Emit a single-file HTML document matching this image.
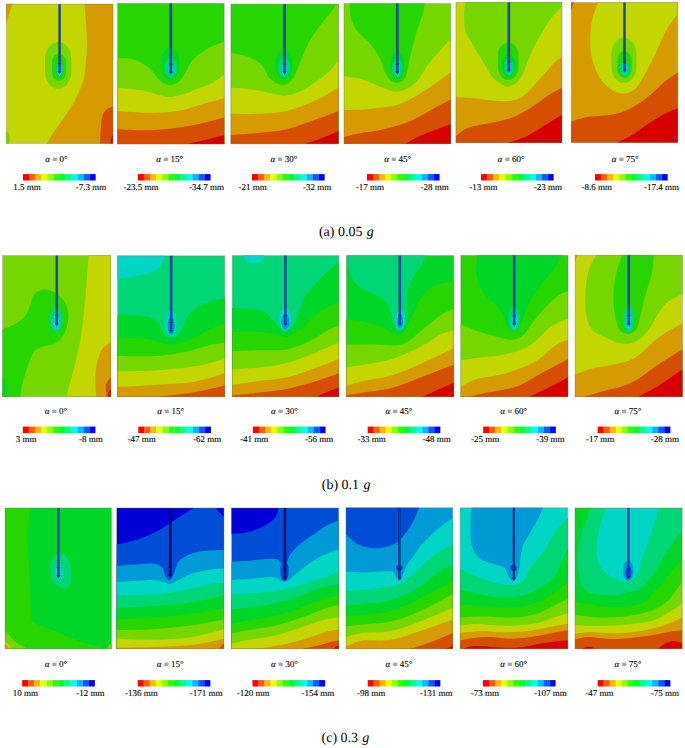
<!DOCTYPE html><html><head><meta charset="utf-8"><style>html,body{margin:0;padding:0;background:#fff;overflow:hidden;width:685px;height:748px;}svg{display:block;}text{font-family:"Liberation Serif",serif;fill:#000;text-rendering:geometricPrecision;}text.s{stroke:#000;stroke-width:0.18px;stroke-opacity:0.6;}</style></head><body>
<svg width="685" height="748" viewBox="0 0 685 748">
<rect width="685" height="748" fill="#fff"/>
<clipPath id="c0"><rect x="6.3" y="4.1" width="106.6" height="139.3"/></clipPath>
<g clip-path="url(#c0)">
<rect x="6.3" y="4.1" width="106.6" height="139.3" fill="#c3d600"/>
<path d="M12.6,4.1C12.1,5.6 10.6,9.7 9.5,13C8.4,16.3 6.8,22.2 6.3,24L2.3,24L2.3,0.1L12.6,0.1Z" fill="#d69b00"/>
<path d="M84.5,4.1C84.8,7.4 85.7,16.7 86.1,24C86.5,31.3 87.2,39.5 86.9,48C86.6,56.5 85.4,68.7 84.5,75C83.6,81.3 82.4,82.8 81.3,86C80.2,89.2 79.2,91.4 78,94.1C76.8,96.8 75.5,99.4 74,102.1C72.5,104.8 70.9,107.4 69.2,110.1C67.5,112.8 65.5,115.5 63.6,118.2C61.7,120.9 59.9,123.5 58,126.2C56.1,128.9 54.2,131.3 52.4,134.2C50.6,137.1 48,141.9 47.1,143.4L47.1,148L117,148L117,0L84.5,0Z" fill="#d69b00"/>
<path d="M112.9,106.6C111.8,107.2 107.7,108.4 106,110C104.3,111.6 103.3,113.8 102.5,116C101.7,118.2 101.6,120.2 101.3,123C101,125.8 100.7,129.6 100.5,133C100.3,136.4 100.1,141.7 100,143.4L100,147.4L116.9,147.4L116.9,106.6Z" fill="#d64e00"/>
<path d="M112.9,134C112.6,134.8 111.4,137.4 111,139C110.6,140.6 110.6,142.7 110.5,143.4L110.5,147.4L116.9,147.4L116.9,134Z" fill="#d60000"/>
<path d="M6.3,131C6.8,131.5 8.7,132.7 9.3,134C9.9,135.3 9.9,137.4 9.8,139C9.8,140.6 9.1,142.7 9,143.4L9,147.4L2.3,147.4L2.3,131Z" fill="#75d600"/>
<rect x="45" y="42" width="26.4" height="46.8" rx="13.2" ry="17.2" fill="#75d600"/>
<rect x="52" y="53.4" width="14" height="27.4" rx="7" ry="9.1" fill="#27d600"/>
<ellipse cx="59.5" cy="69" rx="4" ry="8" fill="#00d675"/>
<ellipse cx="59.6" cy="69.2" rx="2.4" ry="6.6" fill="#00d6c3"/>
<path d="M58.6,3.1 L60.6,3.1 L60.6,72.6 L59.6,74.2 L58.6,72.6 Z" fill="#1f4cbc"/><path d="M58.8,3.1V72.6M60.4,3.1V72.6" stroke="#0c2a80" stroke-width="0.45" fill="none"/><ellipse cx="59.6" cy="63.4" rx="1.9" ry="0.75" fill="#0c2a80"/><ellipse cx="59.6" cy="71.4" rx="1.9" ry="0.75" fill="#0c2a80"/>
</g>
<rect x="6.3" y="4.1" width="106.6" height="139.3" fill="none" stroke="#6b6b50" stroke-opacity="0.55" stroke-width="0.7"/>
<clipPath id="c1"><rect x="117.5" y="3.3" width="106.7" height="140.7"/></clipPath>
<g clip-path="url(#c1)">
<rect x="117.5" y="3.3" width="106.7" height="140.7" fill="#27d600"/>
<path d="M117.5,57.9C120.5,58.2 129.8,57.9 135.3,59.8C140.8,61.7 146.5,65.9 150.7,69.4C154.9,72.9 156.9,78.4 160.3,81C163.7,83.6 167.4,85.5 170.9,85.2C174.4,84.9 177.8,83.2 181.5,79C185.2,74.8 188.5,64.9 193,59.8C197.5,54.7 203.3,51.2 208.5,48.2C213.7,45.2 221.6,42.6 224.2,41.5L228.2,41.5L228.2,148L113.5,148L113.5,57.9Z" fill="#75d600"/>
<path d="M117.5,87.7C121.3,88.1 132.3,88.7 140.1,90.1C147.9,91.5 158.8,95.2 164.2,96.3C169.5,97.4 169,97.2 172.2,96.8C175.4,96.4 179.4,95.3 183.4,94.1C187.4,92.8 191.5,91.2 196.3,89.3C201.1,87.4 207.8,85.2 212.4,82.8C217.1,80.4 222.2,76.1 224.2,74.8L228.2,74.8L228.2,148L113.5,148L113.5,87.7Z" fill="#c3d600"/>
<path d="M117.5,110.9C123.7,111.2 143.5,113 154.5,112.8C165.5,112.6 175.4,111.4 183.4,109.9C191.4,108.5 195.9,106 202.7,104.1C209.5,102.2 220.6,99.3 224.2,98.3L228.2,98.3L228.2,148L113.5,148L113.5,110.9Z" fill="#d69b00"/>
<path d="M117.5,129.2C123.7,129.3 141.9,130.8 154.5,130.1C167.1,129.4 181.4,127.4 193,125.3C204.6,123.2 219,118.9 224.2,117.6L228.2,117.6L228.2,148L113.5,148L113.5,129.2Z" fill="#d64e00"/>
<path d="M187.3,144C190.2,143.3 198.8,141.5 205,140C211.2,138.5 221,135.8 224.2,135L228.2,135L228.2,148L187.3,148Z" fill="#d60000"/>
<ellipse cx="170.4" cy="63.6" rx="9.1" ry="16.4" fill="#00d627"/>
<ellipse cx="170.8" cy="68" rx="6.2" ry="10" fill="#00d675"/>
<ellipse cx="171" cy="69.2" rx="2.7" ry="7.2" fill="#00d6c3"/>
<path d="M169.8,2.3 L172,2.3 L172,73.1 L170.9,74.7 L169.8,73.1 Z" fill="#1f4cbc"/><path d="M170,2.3V73.1M171.8,2.3V73.1" stroke="#0c2a80" stroke-width="0.45" fill="none"/><ellipse cx="170.9" cy="63.9" rx="1.9" ry="0.75" fill="#0c2a80"/><ellipse cx="170.9" cy="71.9" rx="1.9" ry="0.75" fill="#0c2a80"/>
</g>
<rect x="117.5" y="3.3" width="106.7" height="140.7" fill="none" stroke="#6b6b50" stroke-opacity="0.55" stroke-width="0.7"/>
<clipPath id="c2"><rect x="230.9" y="4.1" width="107.6" height="139.7"/></clipPath>
<g clip-path="url(#c2)">
<rect x="230.9" y="4.1" width="107.6" height="139.7" fill="#27d600"/>
<path d="M230.9,53C233.8,53.6 243.2,54.9 248.3,56.9C253.5,58.9 258.1,61.5 261.8,65.2C265.5,68.9 266.9,75.7 270.4,79C273.9,82.3 279.3,84.9 283,84.9C286.7,84.9 289.7,82.9 292.6,79C295.5,75.1 297.4,68.1 300.3,61.7C303.2,55.3 306,47.2 309.9,40.5C313.8,33.8 319.5,26.4 323.4,21.3C327.2,16.2 330.9,12.6 333,9.7C335.1,6.8 335.5,5 336,4.1L336,0L343,0L343,148L226,148L226,53Z" fill="#75d600"/>
<path d="M230.9,87.7C233.3,87.8 240.1,88 245.1,88.5C250.1,89 256.3,90 261.1,90.9C265.9,91.8 270.2,93.3 274,94.1C277.8,94.9 280.4,95.7 283.6,95.7C286.8,95.7 289.7,95.2 293.2,94.1C296.7,93 300.8,91.3 304.5,89.3C308.2,87.3 312.2,84.4 315.7,82C319.2,79.6 322.7,77 325.4,74.8C328.1,72.5 329.8,71 332,68.5C334.2,66 337.4,61.2 338.5,59.8L342.5,59.8L342.5,147.8L226.9,147.8L226.9,87.7Z" fill="#c3d600"/>
<path d="M230.9,113.4C235.4,113.5 248.6,114.2 257.9,113.8C267.2,113.4 277.2,113.2 286.8,110.9C296.4,108.7 307.1,104.2 315.7,100.3C324.3,96.4 334.7,89.8 338.5,87.7L342.5,87.7L342.5,147.8L226.9,147.8L226.9,113.4Z" fill="#d69b00"/>
<path d="M230.9,135C235.4,134.7 248.6,134 257.9,133C267.2,132 277.2,131.4 286.8,129.2C296.4,126.9 307.1,122.5 315.7,119.5C324.3,116.5 334.7,112.3 338.5,110.9L342.5,110.9L342.5,147.8L226.9,147.8L226.9,135Z" fill="#d64e00"/>
<path d="M306,143.8C308.7,142.8 316.6,140.1 322,138C327.4,135.9 335.8,132.2 338.5,131L342.5,131L342.5,147.8L306,147.8Z" fill="#d60000"/>
<ellipse cx="283.9" cy="64.1" rx="8.7" ry="14.9" fill="#00d627"/>
<ellipse cx="284.2" cy="68" rx="6.2" ry="10" fill="#00d675"/>
<ellipse cx="284.6" cy="69.2" rx="2.6" ry="7.2" fill="#00d6c3"/>
<path d="M283.6,3.1 L285.7,3.1 L285.7,73.1 L284.6,74.7 L283.6,73.1 Z" fill="#1f4cbc"/><path d="M283.8,3.1V73.1M285.5,3.1V73.1" stroke="#0c2a80" stroke-width="0.45" fill="none"/><ellipse cx="284.6" cy="63.9" rx="1.9" ry="0.75" fill="#0c2a80"/><ellipse cx="284.6" cy="71.9" rx="1.9" ry="0.75" fill="#0c2a80"/>
</g>
<rect x="230.9" y="4.1" width="107.6" height="139.7" fill="none" stroke="#6b6b50" stroke-opacity="0.55" stroke-width="0.7"/>
<clipPath id="c3"><rect x="344" y="3.6" width="106.8" height="140.1"/></clipPath>
<g clip-path="url(#c3)">
<rect x="344" y="3.6" width="106.8" height="140.1" fill="#75d600"/>
<path d="M349.7,3.6C349.9,5.9 349.4,12.8 350.7,17.4C352,21.9 354,26.4 357.4,30.9C360.8,35.4 367,39.6 370.9,44.4C374.8,49.2 378.2,55.3 380.5,59.8C382.8,64.3 382.8,68 384.4,71.4C386,74.8 387.9,78.1 390.2,80C392.4,81.9 395.3,83.4 397.9,82.9C400.5,82.4 403.7,80.9 405.6,77.1C407.5,73.2 407.8,66.5 409.4,59.8C411,53.1 412.9,44.4 415.2,36.7C417.4,29 421.3,19.1 422.9,13.6C424.5,8.1 424.5,5.3 424.8,3.6L424.8,-0.4L349.7,-0.4Z" fill="#27d600"/>
<path d="M344,76.2C346.9,76.7 355.2,77.2 361.3,79C367.4,80.8 374.4,84.7 380.5,86.8C386.6,88.9 392.1,92.2 397.9,91.6C403.7,90.9 410.1,87.6 415.2,82.9C420.3,78.2 424.2,69.5 428.7,63.7C433.2,57.9 438.5,52.4 442.2,48.2C445.9,44 449.4,40.2 450.8,38.6L454.8,38.6L454.8,147.7L340,147.7L340,76.2Z" fill="#c3d600"/>
<path d="M344,109.9C348.5,109.7 361.6,109.9 370.9,108.9C380.2,107.9 390.8,107.1 399.8,104.1C408.8,101 416.3,95.9 424.8,90.6C433.3,85.3 446.5,75.3 450.8,72.3L454.8,72.3L454.8,147.7L340,147.7L340,109.9Z" fill="#d69b00"/>
<path d="M344,136.9C346.9,136.2 355.2,134.1 361.3,133C367.4,131.9 372.5,132 380.5,130.1C388.5,128.2 400.4,125.2 409.4,121.5C418.4,117.8 427.6,111.7 434.5,108C441.4,104.3 448.1,100.8 450.8,99.3L454.8,99.3L454.8,147.7L340,147.7L340,136.9Z" fill="#d64e00"/>
<path d="M405.6,143.7C408,142.4 415.1,138.3 420,136C424.9,133.7 429.9,131.9 435,130C440.1,128.1 448.2,125.2 450.8,124.3L454.8,124.3L454.8,147.7L405.6,147.7Z" fill="#d60000"/>
<ellipse cx="397.4" cy="65.5" rx="7.2" ry="13.5" fill="#00d627"/>
<ellipse cx="397.5" cy="68.5" rx="5.5" ry="9.5" fill="#00d675"/>
<ellipse cx="397.3" cy="69.2" rx="2.5" ry="7.2" fill="#00d6c3"/>
<path d="M396.2,2.6 L398.4,2.6 L398.4,73.1 L397.3,74.7 L396.2,73.1 Z" fill="#1f4cbc"/><path d="M396.4,2.6V73.1M398.2,2.6V73.1" stroke="#0c2a80" stroke-width="0.45" fill="none"/><ellipse cx="397.3" cy="63.9" rx="1.9" ry="0.75" fill="#0c2a80"/><ellipse cx="397.3" cy="71.9" rx="1.9" ry="0.75" fill="#0c2a80"/>
</g>
<rect x="344" y="3.6" width="106.8" height="140.1" fill="none" stroke="#6b6b50" stroke-opacity="0.55" stroke-width="0.7"/>
<clipPath id="c4"><rect x="455.9" y="2.3" width="106.1" height="140.4"/></clipPath>
<g clip-path="url(#c4)">
<rect x="455.9" y="2.3" width="106.1" height="140.4" fill="#c3d600"/>
<path d="M465.5,2.3C465.2,4.6 463.9,11 464,16C464.1,21 464.2,26.7 466,32.1C467.8,37.5 471.8,42.9 474.9,48.2C478,53.6 481.6,59.5 484.5,64.2C487.4,68.9 489.4,73.3 492,76.5C494.6,79.7 497.3,81.8 500,83.5C502.7,85.2 505.2,86.9 508,86.7C510.8,86.5 514,84.6 516.5,82.5C519,80.4 521.1,77.5 523,73.9C524.9,70.3 526,65.5 527.9,61C529.8,56.5 531.9,51.4 534.3,46.6C536.7,41.8 539.6,36.6 542.3,32.1C545,27.6 547.1,23.6 550.4,19.3C553.7,15 560.1,8.2 562,6L566,6L566,-2L465.5,-2Z" fill="#75d600"/>
<path d="M455.9,97.3C458.8,97.5 465.6,97.6 473.3,98.3C481,99 494.2,101.4 502.2,101.2C510.2,101 515,101.2 521.4,97.3C527.8,93.4 535.2,83.8 540.7,78C546.2,72.2 550.7,66.2 554.2,62.7C557.8,59.2 560.7,57.9 562,56.9L566,56.9L566,146.7L451.9,146.7L451.9,97.3Z" fill="#d69b00"/>
<path d="M455.9,136.5C456.9,135.6 459.6,132.6 462,131C464.4,129.4 466,128.4 470,127.2C474,126 480.7,124.9 486.1,123.8C491.5,122.7 496.8,122.1 502.2,120.6C507.6,119.1 512.9,117.5 518.2,115C523.6,112.5 528.9,108.8 534.3,105.3C539.7,101.8 545.8,97 550.4,94.1C555,91.2 560.1,88.8 562,87.7L566,87.7L566,146.7L451.9,146.7L451.9,136.5Z" fill="#d64e00"/>
<path d="M508,142.7C511.2,141.6 520.8,139 527.2,135.9C533.6,132.8 540.7,127.8 546.5,124.3C552.3,120.8 559.4,116.3 562,114.7L566,114.7L566,146.7L508,146.7Z" fill="#d60000"/>
<rect x="497.9" y="42.4" width="20.6" height="37.6" rx="10.3" ry="13.4" fill="#27d600"/>
<ellipse cx="508.8" cy="65.5" rx="6.8" ry="11.5" fill="#00d627"/>
<ellipse cx="508.8" cy="67.5" rx="4.8" ry="8.5" fill="#00d675"/>
<ellipse cx="508.9" cy="67.7" rx="2.5" ry="7.1" fill="#00d6c3"/>
<path d="M507.8,1.3 L509.9,1.3 L509.9,71.1 L508.9,72.7 L507.8,71.1 Z" fill="#1f4cbc"/><path d="M508,1.3V71.1M509.8,1.3V71.1" stroke="#0c2a80" stroke-width="0.45" fill="none"/><ellipse cx="508.9" cy="61.9" rx="1.9" ry="0.75" fill="#0c2a80"/><ellipse cx="508.9" cy="69.9" rx="1.9" ry="0.75" fill="#0c2a80"/>
</g>
<rect x="455.9" y="2.3" width="106.1" height="140.4" fill="none" stroke="#6b6b50" stroke-opacity="0.55" stroke-width="0.7"/>
<clipPath id="c5"><rect x="571.2" y="2.6" width="106.6" height="140"/></clipPath>
<g clip-path="url(#c5)">
<rect x="571.2" y="2.6" width="106.6" height="140" fill="#d69b00"/>
<path d="M597.9,2.6C596.9,5.5 593.4,14.2 592.1,20.3C590.8,26.4 590.2,33.1 590.2,39.5C590.2,45.9 590.5,52.4 592.1,58.8C593.7,65.2 596.6,72.9 599.8,78C603,83.1 607.5,87 611.4,89.6C615.3,92.2 619.1,93.5 623,93.5C626.9,93.5 630.9,92.7 634.5,89.6C638.1,86.5 642.3,78.4 644.5,75C646.7,71.6 645.8,72.7 647.7,69C649.6,65.3 652.8,59.1 655.7,53C658.7,46.9 662.7,37.4 665.4,32.1C668.1,26.9 669.9,24.5 672,21.5C674.1,18.5 676.8,15.2 677.8,14L682,14L682,-2L597.9,-2Z" fill="#c3d600"/>
<path d="M573.8,2.6C573.5,3.2 572.7,5.3 572.3,6.5C571.9,7.7 571.4,9.2 571.2,9.7L567.2,9.7L567.2,-1.4L573.8,-1.4Z" fill="#d64e00"/>
<path d="M571.2,121.4C573.5,120.7 580.1,118.3 585.1,117.4C590.1,116.5 595.8,116.5 601.1,115.8C606.5,115.1 611.9,114.9 617.2,113.4C622.6,111.9 627.9,109.9 633.2,106.9C638.6,104 643.9,100 649.3,95.7C654.7,91.4 660.6,85.1 665.4,81.2C670.1,77.3 675.7,73.9 677.8,72.4L681.8,72.4L681.8,146.6L567.2,146.6L567.2,121.4Z" fill="#d64e00"/>
<path d="M617.2,142.6C619.9,141.2 627.9,137.5 633.2,134.2C638.6,130.9 643.9,126.5 649.3,123C654.7,119.5 660.6,115.8 665.4,113.4C670.1,111 675.7,109.3 677.8,108.5L681.8,108.5L681.8,146.6L617.2,146.6Z" fill="#d60000"/>
<rect x="611.4" y="37.6" width="25" height="45.3" rx="12.5" ry="16.2" fill="#75d600"/>
<rect x="617.2" y="51.1" width="14.4" height="26.9" rx="7.2" ry="9.4" fill="#27d600"/>
<ellipse cx="624.5" cy="68.5" rx="5" ry="8.5" fill="#00d675"/>
<ellipse cx="624.5" cy="67.7" rx="2.5" ry="7.1" fill="#00d6c3"/>
<path d="M623.5,1.6 L625.5,1.6 L625.5,71.1 L624.5,72.7 L623.5,71.1 Z" fill="#1f4cbc"/><path d="M623.7,1.6V71.1M625.3,1.6V71.1" stroke="#0c2a80" stroke-width="0.45" fill="none"/><ellipse cx="624.5" cy="61.9" rx="1.9" ry="0.75" fill="#0c2a80"/><ellipse cx="624.5" cy="69.9" rx="1.9" ry="0.75" fill="#0c2a80"/>
</g>
<rect x="571.2" y="2.6" width="106.6" height="140" fill="none" stroke="#6b6b50" stroke-opacity="0.55" stroke-width="0.7"/>
<clipPath id="c6"><rect x="2.6" y="255.6" width="108.2" height="141.1"/></clipPath>
<g clip-path="url(#c6)">
<rect x="2.6" y="255.6" width="108.2" height="141.1" fill="#75d600"/>
<path d="M2.6,329C4.2,328.4 8.9,327.1 12.5,325.2C16.1,323.3 21.2,320.7 24.1,317.5C27,314.3 28.3,309.9 29.9,306C31.5,302.1 31.5,297.1 33.7,294.4C35.9,291.7 39.8,289.9 43.3,289.6C46.8,289.3 51.4,290.4 54.9,292.5C58.4,294.6 62.2,298.2 64.5,302.1C66.8,306 68.2,310.8 68.4,315.6C68.6,320.4 67.4,326.5 65.5,331C63.6,335.5 60.8,339.8 56.8,342.5C52.8,345.2 45.2,345.7 41.4,347.3C37.5,348.9 36,349.1 33.7,352.2C31.5,355.2 29.8,360.2 27.9,365.6C26,371.1 23.5,379.7 22.2,384.9C20.9,390.1 20.5,394.7 20.2,396.7L20.2,401L-2,401L-2,329Z" fill="#27d600"/>
<path d="M2.6,377.2C3.2,378 5.7,379.9 6.5,382C7.3,384.1 7.7,387.6 7.7,390C7.7,392.4 6.7,395.6 6.5,396.7L6.5,400.7L-1.4,400.7L-1.4,377.2Z" fill="#00d627"/>
<path d="M88.6,255.6C88.1,261.8 86.8,279.9 85.7,292.5C84.6,305.1 83.4,319.8 81.8,331C80.2,342.2 78.3,350.3 76.1,359.9C73.9,369.5 70,382.6 68.4,388.7C66.8,394.8 66.7,395.4 66.4,396.7L66.4,401L115,401L115,251L88.6,251Z" fill="#c3d600"/>
<path d="M110.8,342.5C109.5,343.5 105.3,345.1 103,348.3C100.7,351.5 98.5,356.7 97.2,361.8C95.9,366.9 95.5,373.3 95.3,379.1C95.1,384.9 96.1,393.8 96.3,396.7L96.3,400.7L114.8,400.7L114.8,342.5Z" fill="#d69b00"/>
<path d="M110.8,377.2C110,378.5 106.6,381.6 105.9,384.9C105.2,388.1 106.7,394.7 106.8,396.7L106.8,400.7L114.8,400.7L114.8,377.2Z" fill="#d64e00"/>
<path d="M110.8,389C110.4,389.7 109,391.7 108.6,393C108.1,394.3 108.2,396.1 108.1,396.7L108.1,400.7L114.8,400.7L114.8,389Z" fill="#d60000"/>
<ellipse cx="55.9" cy="319.9" rx="6.8" ry="12.1" fill="#00d675"/>
<ellipse cx="56.5" cy="322" rx="4" ry="8" fill="#00d6c3"/>
<path d="M55.8,254.6 L57.8,254.6 L57.8,325 L56.8,326.6 L55.8,325 Z" fill="#1f4cbc"/><path d="M56,254.6V325M57.6,254.6V325" stroke="#0c2a80" stroke-width="0.45" fill="none"/><ellipse cx="56.8" cy="315.8" rx="1.9" ry="0.75" fill="#0c2a80"/><ellipse cx="56.8" cy="323.8" rx="1.9" ry="0.75" fill="#0c2a80"/>
</g>
<rect x="2.6" y="255.6" width="108.2" height="141.1" fill="none" stroke="#6b6b50" stroke-opacity="0.55" stroke-width="0.7"/>
<clipPath id="c7"><rect x="117.5" y="255.8" width="107.3" height="140.9"/></clipPath>
<g clip-path="url(#c7)">
<rect x="117.5" y="255.8" width="107.3" height="140.9" fill="#00d675"/>
<path d="M164.1,255.8C163.8,257.1 163.8,261 162.2,263.6C160.6,266.2 159,269.2 154.5,271.3C150,273.4 141.4,274.8 135.2,276.1C129,277.4 120.5,278.5 117.5,279L113.5,279L113.5,251.8L164.1,251.8Z" fill="#00d6c3"/>
<path d="M117.5,314.6C120.5,314.8 131.4,315.4 135.2,315.6C138.9,315.8 137.7,315.8 140,316C142.3,316.2 145.9,315.9 148.8,316.9C151.7,317.9 155.5,320.3 157.5,322.2C159.5,324.1 159.7,326.1 161,328.3C162.3,330.5 163.8,333.7 165.4,335.3C167,336.9 168.8,337.8 170.7,337.9C172.6,338 174.9,337.5 176.8,336.2C178.7,334.9 180.6,332.5 182,330C183.4,327.5 184,324.2 185.5,321.3C187,318.4 188.4,315.1 190.8,312.5C193.2,309.9 197.1,307.2 200,305.5C202.9,303.8 205.3,303.4 208,302.5C210.7,301.6 213.3,300.9 216.1,300.2C218.9,299.5 223.4,298.6 224.8,298.3L228.8,298.3L228.8,400.7L113.5,400.7L113.5,314.6Z" fill="#00d627"/>
<path d="M117.5,337.7C122.1,337.9 137.1,337.7 144.9,338.7C152.7,339.7 159.3,342.5 164.1,343.5C168.9,344.5 168.9,345.3 173.7,344.5C178.5,343.7 186.6,341.4 193,338.7C199.4,336 206.9,330.7 212.2,328.1C217.5,325.5 222.7,324.1 224.8,323.3L228.8,323.3L228.8,400.7L113.5,400.7L113.5,337.7Z" fill="#27d600"/>
<path d="M117.5,356C123.7,356 143.5,356.6 154.5,356C165.5,355.4 174.4,354 183.4,352.2C192.4,350.4 201.5,347 208.4,345.4C215.3,343.8 222.1,343 224.8,342.5L228.8,342.5L228.8,400.7L113.5,400.7L113.5,356Z" fill="#75d600"/>
<path d="M117.5,371.4C123.7,371.2 141.9,371.2 154.5,370.4C167.1,369.6 181.3,368.5 193,366.6C204.7,364.7 219.5,360.2 224.8,358.9L228.8,358.9L228.8,400.7L113.5,400.7L113.5,371.4Z" fill="#c3d600"/>
<path d="M117.5,386.8C123.7,386.5 141.9,385.7 154.5,384.9C167.1,384.1 181.3,383.9 193,382C204.7,380.1 219.5,374.8 224.8,373.3L228.8,373.3L228.8,400.7L113.5,400.7L113.5,386.8Z" fill="#d69b00"/>
<path d="M160,396.7C163.6,396.2 173.8,395.1 181.4,394C189.1,392.9 198.7,391.3 205.9,389.9C213.1,388.5 221.7,386.2 224.8,385.5L228.8,385.5L228.8,400.7L160,400.7Z" fill="#d64e00"/>
<ellipse cx="170.9" cy="323.1" rx="5.6" ry="13" fill="#00d6c3"/>
<ellipse cx="171.1" cy="325.9" rx="3.6" ry="9" fill="#009bd6"/>
<path d="M170.1,254.8 L172.2,254.8 L172.2,331.6 L171.2,333.2 L170.1,331.6 Z" fill="#1f4cbc"/><path d="M170.3,254.8V331.6M172.1,254.8V331.6" stroke="#0c2a80" stroke-width="0.45" fill="none"/><ellipse cx="171.2" cy="322.4" rx="1.9" ry="0.75" fill="#0c2a80"/><ellipse cx="171.2" cy="330.4" rx="1.9" ry="0.75" fill="#0c2a80"/>
</g>
<rect x="117.5" y="255.8" width="107.3" height="140.9" fill="none" stroke="#6b6b50" stroke-opacity="0.55" stroke-width="0.7"/>
<clipPath id="c8"><rect x="232.2" y="255.5" width="106.7" height="141.2"/></clipPath>
<g clip-path="url(#c8)">
<rect x="232.2" y="255.5" width="106.7" height="141.2" fill="#00d675"/>
<ellipse cx="254.1" cy="255.6" rx="10.6" ry="8.1" fill="#00d6c3"/>
<path d="M232.2,307.9C235,308 243.8,308.2 249.2,308.8C254.6,309.4 260.4,309.6 264.6,311.7C268.8,313.8 270.9,318.2 274.3,321.4C277.7,324.6 281.7,330.4 284.9,331C288.1,331.6 291.1,328.4 293.5,325.2C295.9,322 297.4,316.5 299.3,311.7C301.2,306.9 302.2,301.1 305.1,296.3C308,291.5 312.1,287.7 316.6,282.9C321.1,278.1 328.3,270.9 332,267.5C335.7,264.1 337.8,263.5 338.9,262.7L342.9,262.7L342.9,400.7L228.2,400.7L228.2,307.9Z" fill="#00d627"/>
<path d="M232.2,332C236.6,332 251.2,331.5 258.9,332C266.5,332.5 273.3,334 278.1,334.8C282.9,335.6 283.5,338.1 287.7,336.8C291.9,335.5 298.3,331 303.1,327.1C307.9,323.2 312.1,317.2 316.6,313.7C321.1,310.2 326.4,307.9 330.1,306C333.8,304.1 337.4,302.8 338.9,302.1L342.9,302.1L342.9,400.7L228.2,400.7L228.2,332Z" fill="#27d600"/>
<path d="M232.2,351.2C236.6,351 249.6,350.5 258.9,350.2C268.1,349.9 279,350.9 287.7,349.3C296.4,347.7 304.4,343.7 310.8,340.6C317.2,337.6 321.5,333.6 326.2,331C330.9,328.4 336.8,326.2 338.9,325.2L342.9,325.2L342.9,400.7L228.2,400.7L228.2,351.2Z" fill="#75d600"/>
<path d="M232.2,369.5C236.6,369.2 249.6,368.6 258.9,367.5C268.1,366.4 278.1,365.2 287.7,362.7C297.3,360.1 308.1,355.6 316.6,352.2C325.1,348.8 335.2,344.1 338.9,342.5L342.9,342.5L342.9,400.7L228.2,400.7L228.2,369.5Z" fill="#c3d600"/>
<path d="M232.2,384.9C236.6,384.2 249.6,382.3 258.9,381C268.1,379.7 278.1,379.4 287.7,377.2C297.3,374.9 308.1,370.6 316.6,367.5C325.1,364.4 335.2,360.3 338.9,358.9L342.9,358.9L342.9,400.7L228.2,400.7L228.2,384.9Z" fill="#d69b00"/>
<path d="M232.2,395.5C236.6,395 249.6,393.7 258.9,392.6C268.1,391.5 278.1,390.6 287.7,388.7C297.3,386.8 308.1,383.6 316.6,381C325.1,378.4 335.2,374.6 338.9,373.3L342.9,373.3L342.9,400.7L228.2,400.7L228.2,395.5Z" fill="#d64e00"/>
<path d="M316.7,396.7C318.6,395.8 324.4,393.1 328.1,391.5C331.8,389.9 337.1,388.1 338.9,387.4L342.9,387.4L342.9,400.7L316.7,400.7Z" fill="#d60000"/>
<ellipse cx="285.4" cy="319.4" rx="6.2" ry="11.6" fill="#00d6c3"/>
<ellipse cx="285.5" cy="321.8" rx="4" ry="7.8" fill="#009bd6"/>
<path d="M284.3,254.5 L286.4,254.5 L286.4,325 L285.4,326.6 L284.3,325 Z" fill="#1f4cbc"/><path d="M284.5,254.5V325M286.2,254.5V325" stroke="#0c2a80" stroke-width="0.45" fill="none"/><ellipse cx="285.4" cy="315.8" rx="1.9" ry="0.75" fill="#0c2a80"/><ellipse cx="285.4" cy="323.8" rx="1.9" ry="0.75" fill="#0c2a80"/>
</g>
<rect x="232.2" y="255.5" width="106.7" height="141.2" fill="none" stroke="#6b6b50" stroke-opacity="0.55" stroke-width="0.7"/>
<clipPath id="c9"><rect x="346.3" y="255.4" width="107.5" height="141.3"/></clipPath>
<g clip-path="url(#c9)">
<rect x="346.3" y="255.4" width="107.5" height="141.3" fill="#00d627"/>
<path d="M347.8,255.4C348.1,258.4 347.9,268 349.8,273.2C351.7,278.4 354.9,283 359.4,286.7C363.9,290.4 372.2,292.8 376.7,295.4C381.2,298 384.1,299.4 386.3,302.1C388.6,304.8 388.9,307.9 390.2,311.7C391.5,315.5 392.4,322.1 394,325.2C395.6,328.2 397.7,332.2 399.8,330C401.9,327.8 405.2,317.9 406.5,311.7C407.8,305.4 406.4,298.3 407.5,292.5C408.6,286.7 411.1,281.6 413.3,277.1C415.6,272.6 418.9,269.1 421,265.5C423.1,261.9 425,257.1 425.8,255.4L425.8,251.4L347.8,251.4Z" fill="#00d675"/>
<path d="M346.3,319.4C349.1,319.7 357.2,320.1 363.2,321.4C369.2,322.7 377.7,325.2 382.5,327.1C387.3,329 388.9,331.8 392.1,332.9C395.3,334 398.5,336.5 401.7,333.9C404.9,331.3 408.2,323.4 411.4,317.5C414.6,311.6 417.5,303.4 421,298.3C424.5,293.2 427,289.6 432.5,286.7C438,283.8 450.2,281.9 453.8,280.9L457.8,280.9L457.8,400.7L342.3,400.7L342.3,319.4Z" fill="#27d600"/>
<path d="M346.3,344.5C350.7,344.5 363.7,344.5 372.9,344.5C382.1,344.5 393.7,346.8 401.7,344.5C409.7,342.2 414.6,335.8 421,331C427.4,326.2 434.7,319.3 440.2,315.6C445.7,311.9 451.5,309.9 453.8,308.8L457.8,308.8L457.8,400.7L342.3,400.7L342.3,344.5Z" fill="#75d600"/>
<path d="M346.3,367.5C349.1,367 355.6,366.1 363.2,364.7C370.8,363.3 382.5,361.9 392.1,358.9C401.7,355.8 413,350.4 421,346.4C429,342.4 434.7,337.5 440.2,334.8C445.7,332.1 451.5,330.8 453.8,330L457.8,330L457.8,400.7L342.3,400.7L342.3,367.5Z" fill="#c3d600"/>
<path d="M346.3,385.8C349.1,385 355.6,382.8 363.2,381C370.8,379.2 382.5,378.1 392.1,375.2C401.7,372.3 410.7,368.2 421,363.7C431.3,359.2 448.3,350.9 453.8,348.3L457.8,348.3L457.8,400.7L342.3,400.7L342.3,385.8Z" fill="#d69b00"/>
<path d="M346.3,395.5C349.1,395 355.6,393.9 363.2,392.6C370.8,391.3 382.5,390.4 392.1,387.8C401.7,385.2 410.7,381.1 421,377.2C431.3,373.3 448.3,366.8 453.8,364.7L457.8,364.7L457.8,400.7L342.3,400.7L342.3,395.5Z" fill="#d64e00"/>
<path d="M422.5,396.7C424.7,395.7 431.8,392.4 435.6,390.7C439.4,389 442.4,388 445.4,386.6C448.4,385.2 452.4,383.2 453.8,382.5L457.8,382.5L457.8,400.7L422.5,400.7Z" fill="#d60000"/>
<ellipse cx="400.3" cy="319.9" rx="5.3" ry="10.1" fill="#00d6c3"/>
<ellipse cx="400" cy="321.8" rx="3" ry="6.8" fill="#009bd6"/>
<path d="M398.8,254.4 L400.9,254.4 L400.9,325 L399.8,326.6 L398.8,325 Z" fill="#1f4cbc"/><path d="M398.9,254.4V325M400.7,254.4V325" stroke="#0c2a80" stroke-width="0.45" fill="none"/><ellipse cx="399.8" cy="315.8" rx="1.9" ry="0.75" fill="#0c2a80"/><ellipse cx="399.8" cy="323.8" rx="1.9" ry="0.75" fill="#0c2a80"/>
</g>
<rect x="346.3" y="255.4" width="107.5" height="141.3" fill="none" stroke="#6b6b50" stroke-opacity="0.55" stroke-width="0.7"/>
<clipPath id="c10"><rect x="460.8" y="255.3" width="107.2" height="141.4"/></clipPath>
<g clip-path="url(#c10)">
<rect x="460.8" y="255.3" width="107.2" height="141.4" fill="#27d600"/>
<path d="M477.2,255.3C477.1,258.3 475.3,267 476.3,273.2C477.3,279.4 479.6,287 483,292.5C486.4,298 493,301.8 496.5,306C500,310.2 502.4,314 504.2,317.5C506,321 505.5,325 507.1,327.1C508.7,329.2 511.4,330.9 513.8,330C516.2,329.1 519.7,324.1 521.5,321.4C523.3,318.7 523.1,317.4 524.5,314C525.9,310.6 527.2,305.9 530,301C532.8,296.1 537.3,290.1 541.4,284.7C545.5,279.3 551,273.3 554.5,268.4C558,263.5 561.2,257.5 562.6,255.3L562.6,251.3L477.2,251.3Z" fill="#00d627"/>
<path d="M460.8,324.2C463.5,325.3 471.2,328.9 477.2,331C483.1,333.1 490.7,335.4 496.5,336.8C502.3,338.2 507.4,339.9 511.9,339.6C516.4,339.3 519.5,338.2 523.4,334.8C527.2,331.4 530.8,324.5 535,319.4C539.2,314.3 544.3,308.2 548.5,304C552.7,299.8 556.8,296.5 560,294.4C563.2,292.3 566.7,292 568,291.5L572,291.5L572,400.7L456.8,400.7L456.8,324.2Z" fill="#75d600"/>
<path d="M460.8,359.9C463.5,359.6 469.6,358.9 477.2,357.9C484.8,356.9 497.1,356.3 506.1,354.1C515.1,351.9 523.7,349 531.1,344.5C538.5,340 544.2,331.4 550.4,327.1C556.5,322.8 565.1,319.9 568,318.5L572,318.5L572,400.7L456.8,400.7L456.8,359.9Z" fill="#c3d600"/>
<path d="M460.8,386.8C463.5,385.5 469.6,381.4 477.2,379.1C484.8,376.9 496.5,376.2 506.1,373.3C515.7,370.4 527,366.3 535,361.8C543,357.3 548.7,350.1 554.2,346.4C559.7,342.7 565.7,340.7 568,339.6L572,339.6L572,400.7L456.8,400.7L456.8,386.8Z" fill="#d69b00"/>
<path d="M469.5,396.7C472.4,396 479.2,394.2 486.9,392.6C494.6,391 506.1,390.3 515.7,386.8C525.3,383.3 535.9,376 544.6,371.4C553.3,366.8 564.1,361 568,358.9L572,358.9L572,400.7L469.5,400.7Z" fill="#d64e00"/>
<path d="M529.2,396.7C532.7,395.1 543.9,390.1 550.4,386.8C556.9,383.6 565.1,378.8 568,377.2L572,377.2L572,400.7L529.2,400.7Z" fill="#d60000"/>
<ellipse cx="514" cy="318.5" rx="6" ry="12.5" fill="#00d675"/>
<ellipse cx="514.2" cy="321.2" rx="3.8" ry="8.2" fill="#00d6c3"/>
<path d="M513.2,254.3 L515.2,254.3 L515.2,325 L514.2,326.6 L513.2,325 Z" fill="#1f4cbc"/><path d="M513.4,254.3V325M515,254.3V325" stroke="#0c2a80" stroke-width="0.45" fill="none"/><ellipse cx="514.2" cy="315.8" rx="1.9" ry="0.75" fill="#0c2a80"/><ellipse cx="514.2" cy="323.8" rx="1.9" ry="0.75" fill="#0c2a80"/>
</g>
<rect x="460.8" y="255.3" width="107.2" height="141.4" fill="none" stroke="#6b6b50" stroke-opacity="0.55" stroke-width="0.7"/>
<clipPath id="c11"><rect x="575.1" y="255.2" width="107.3" height="141.5"/></clipPath>
<g clip-path="url(#c11)">
<rect x="575.1" y="255.2" width="107.3" height="141.5" fill="#c3d600"/>
<path d="M577.8,255.2C577.5,255.8 576.7,257.9 576.2,259C575.8,260.1 575.3,261.2 575.1,261.7L571.1,261.7L571.1,251.2L577.8,251.2Z" fill="#d69b00"/>
<path d="M596.1,255.2C595,257.4 591.1,263.5 589.4,268.4C587.7,273.3 586.8,279.3 586.1,284.7C585.4,290.1 585.2,295.6 585.3,301C585.4,306.4 585.9,312.9 586.9,317.4C587.9,321.9 589.1,325.2 591,328C592.9,330.8 595.5,332.4 598,334C600.5,335.6 602.4,336.1 605.7,337.5C609,338.9 613.9,341.5 617.9,342.5C621.9,343.5 625.7,344.5 629.6,343.7C633.5,342.9 637.7,340.8 641.3,337.9C644.9,335 648.1,330.3 651,326.1C653.9,321.9 656.3,316.4 658.9,312.5C661.5,308.6 663.8,305.3 666.7,302.7C669.6,300.1 673.8,298.3 676.4,296.9C679,295.4 681.4,294.5 682.4,294L687,294L687,251L596.1,251Z" fill="#75d600"/>
<path d="M622.1,255.2C621.1,258.2 617.8,267 616.3,273.2C614.8,279.4 613.7,286.1 613.4,292.5C613.1,298.9 613.4,305.6 614.4,311.7C615.4,317.8 617,325.3 619.2,329C621.4,332.7 624.9,333.9 627.8,333.9C630.7,333.9 634.2,332.7 636.5,329C638.8,325.3 639.7,317.8 641.3,311.7C642.9,305.6 644.3,298.9 646.1,292.5C647.9,286.1 650.6,279.4 651.9,273.2C653.2,267 653.5,258.2 653.8,255.2L653.8,251.2L622.1,251.2Z" fill="#27d600"/>
<path d="M575.1,374.3C578,373.3 586.1,370.1 592.2,368.5C598.3,366.9 604.4,366.5 611.5,364.7C618.6,362.9 626.6,362.5 634.6,357.9C642.6,353.2 651.6,342.6 659.6,336.8C667.6,331 678.6,325.6 682.4,323.3L686.4,323.3L686.4,400.7L571.1,400.7L571.1,374.3Z" fill="#d69b00"/>
<path d="M584.5,396.7C587.4,395.9 594.2,393.9 601.9,391.6C609.6,389.3 621.1,387.6 630.7,383C640.3,378.4 651,369.3 659.6,363.7C668.2,358.1 678.6,351.7 682.4,349.3L686.4,349.3L686.4,400.7L584.5,400.7Z" fill="#d64e00"/>
<path d="M638.4,396.7C641.9,394.7 652.3,389.4 659.6,384.9C666.9,380.4 678.6,372.1 682.4,369.5L686.4,369.5L686.4,400.7L638.4,400.7Z" fill="#d60000"/>
<ellipse cx="628.8" cy="319" rx="5.8" ry="13" fill="#00d675"/>
<ellipse cx="628.8" cy="321.5" rx="3.5" ry="8.5" fill="#00d6c3"/>
<path d="M627.8,254.2 L629.8,254.2 L629.8,325 L628.8,326.6 L627.8,325 Z" fill="#1f4cbc"/><path d="M628,254.2V325M629.6,254.2V325" stroke="#0c2a80" stroke-width="0.45" fill="none"/><ellipse cx="628.8" cy="315.8" rx="1.9" ry="0.75" fill="#0c2a80"/><ellipse cx="628.8" cy="323.8" rx="1.9" ry="0.75" fill="#0c2a80"/>
</g>
<rect x="575.1" y="255.2" width="107.3" height="141.5" fill="none" stroke="#6b6b50" stroke-opacity="0.55" stroke-width="0.7"/>
<clipPath id="c12"><rect x="5.1" y="508" width="106.5" height="140.8"/></clipPath>
<g clip-path="url(#c12)">
<rect x="5.1" y="508" width="106.5" height="140.8" fill="#00d627"/>
<path d="M29.9,508C29.6,511.7 28.4,524.7 28,530C27.6,535.3 27.3,532.9 27.5,540C27.7,547.1 28.6,561.8 29.2,572.7C29.8,583.6 30.4,597.9 30.8,605.4C31.2,612.9 30.9,614.6 31.4,617.5C31.9,620.4 31.4,620.7 34,622.5C36.6,624.3 42.2,626.2 47.1,628.3C52,630.3 58,632.6 63.5,634.8C69,637 74.1,639.5 79.8,641.4C85.5,643.3 93.2,645.1 97.8,646.3C102.4,647.5 106,648.4 107.6,648.8L107.6,653L1,653L1,504L29.9,504Z" fill="#27d600"/>
<path d="M5.1,631.1C6,632.1 8.8,635 10.7,636.9C12.6,638.8 13.6,640.6 16.5,642.6C19.4,644.6 26.1,647.8 28,648.8L28,652.8L1.1,652.8L1.1,631.1Z" fill="#75d600"/>
<path d="M5.1,641C5.8,641.7 8,643.7 9,645C10,646.3 10.7,648.2 11,648.8L11,652.8L1.1,652.8L1.1,641Z" fill="#c3d600"/>
<path d="M5.1,644.5C5.5,644.8 6.9,645.6 7.5,646.3C8.1,647 8.6,648.4 8.8,648.8L8.8,652.8L1.1,652.8L1.1,644.5Z" fill="#d69b00"/>
<path d="M107.9,648.8C108.1,648.2 108.4,645.9 109,645C109.6,644.1 111.2,643.8 111.6,643.6L115.6,643.6L115.6,652.8L107.9,652.8Z" fill="#75d600"/>
<path d="M58.4,553.2C60.8,552.5 64.2,554.4 66,556C67.8,557.6 68.6,560.3 69.5,563C70.4,565.7 71.1,568.8 71.3,572C71.5,575.2 71.5,579.2 70.5,582C69.5,584.8 67.1,588.1 65,588.8C62.9,589.5 60.2,587.5 58,586C55.8,584.5 53.3,582.7 52,580C50.7,577.3 50.3,573.3 50.2,570C50.1,566.7 50.1,562.8 51.5,560C52.9,557.2 56,553.9 58.4,553.2Z" fill="#00d675"/>
<ellipse cx="58.9" cy="572.4" rx="3.9" ry="7.7" fill="#00d6c3"/>
<path d="M57.4,507 L59.4,507 L59.4,577 L58.4,578.6 L57.4,577 Z" fill="#1f4cbc"/><path d="M57.6,507V577M59.2,507V577" stroke="#0c2a80" stroke-width="0.45" fill="none"/><ellipse cx="58.4" cy="567.8" rx="1.9" ry="0.75" fill="#0c2a80"/><ellipse cx="58.4" cy="575.8" rx="1.9" ry="0.75" fill="#0c2a80"/>
</g>
<rect x="5.1" y="508" width="106.5" height="140.8" fill="none" stroke="#6b6b50" stroke-opacity="0.55" stroke-width="0.7"/>
<clipPath id="c13"><rect x="116.6" y="508" width="107.3" height="140.8"/></clipPath>
<g clip-path="url(#c13)">
<rect x="116.6" y="508" width="107.3" height="140.8" fill="#0000d6"/>
<path d="M116.6,544.5C119.5,543.9 128,542.5 134.2,540.6C140.3,538.7 148,535.6 153.5,533C159,530.4 162.8,527.8 167,525.2C171.2,522.6 174.3,520.2 178.5,517.5C182.7,514.8 189.5,510.5 192,508.9C194.5,507.3 193.2,508.1 193.5,508L193.5,504L228,504L228,653L112,653L112,544.5Z" fill="#004ed6"/>
<path d="M216,508C216.5,508.7 217.7,510.6 219,512C220.3,513.4 223.1,515.8 223.9,516.6L227.9,516.6L227.9,504L216,504Z" fill="#0000d6"/>
<path d="M116.6,565.7C119.5,565.5 128,565 134.2,564.7C140.3,564.4 148.8,563.2 153.5,563.7C158.2,564.2 160.3,565.7 162.2,567.6C164.1,569.5 163.7,573.2 165,575.3C166.3,577.4 168.2,580.8 169.8,580.1C171.4,579.5 173.2,574.5 174.7,571.4C176.1,568.3 176.3,564.5 178.5,561.8C180.7,559.1 184.2,556.9 188.1,555.1C191.9,553.3 195.6,552 201.6,551.2C207.6,550.4 220.2,550.4 223.9,550.3L227.9,550.3L227.9,652.8L112.6,652.8L112.6,565.7Z" fill="#009bd6"/>
<path d="M116.6,582C119.5,581.9 128,581.4 134.2,581.1C140.3,580.8 148.7,580 153.5,580.1C158.3,580.2 160.4,581.4 163.1,582C165.8,582.6 167.2,584.3 169.8,584C172.4,583.7 174.8,581.9 178.5,580.1C182.2,578.3 186.6,575.2 192,573.4C197.4,571.6 205.9,570.3 211.2,569.5C216.5,568.7 221.8,568.7 223.9,568.5L227.9,568.5L227.9,652.8L112.6,652.8L112.6,582Z" fill="#00d6c3"/>
<path d="M116.6,595.5C122.8,595.3 142.5,595.3 153.5,594.5C164.5,593.7 172.8,592.5 182.4,590.7C192,589 204.3,585.3 211.2,584C218.1,582.7 221.8,583.2 223.9,583L227.9,583L227.9,652.8L112.6,652.8L112.6,595.5Z" fill="#00d675"/>
<path d="M116.6,608C122.8,607.7 140.9,607.1 153.5,606.1C166.1,605.1 180.3,604 192,602.2C203.7,600.4 218.6,596.6 223.9,595.5L227.9,595.5L227.9,652.8L112.6,652.8L112.6,608Z" fill="#00d627"/>
<path d="M116.6,619.5C122.8,619.2 140.9,618.6 153.5,617.6C166.1,616.6 180.3,615.4 192,613.8C203.7,612.2 218.6,609 223.9,608L227.9,608L227.9,652.8L112.6,652.8L112.6,619.5Z" fill="#27d600"/>
<path d="M116.6,630.1C122.8,630 140.9,630 153.5,629.2C166.1,628.4 180.3,626.9 192,625.3C203.7,623.7 218.6,620.5 223.9,619.5L227.9,619.5L227.9,652.8L112.6,652.8L112.6,630.1Z" fill="#75d600"/>
<path d="M116.6,638.8C122.8,639 140.9,640.1 153.5,639.8C166.1,639.5 180.3,638.7 192,636.9C203.7,635.1 218.6,630.5 223.9,629.2L227.9,629.2L227.9,652.8L112.6,652.8L112.6,638.8Z" fill="#c3d600"/>
<path d="M116.6,647.5C122.8,647.4 140.9,647.4 153.5,647C166.1,646.6 180.3,646.4 192,645C203.7,643.6 218.6,639.8 223.9,638.8L227.9,638.8L227.9,652.8L112.6,652.8L112.6,647.5Z" fill="#d69b00"/>
<path d="M218.9,648.8C219.2,648.3 220.2,646.9 221,646C221.8,645.1 223.4,644 223.9,643.6L227.9,643.6L227.9,652.8L218.9,652.8Z" fill="#d64e00"/>
<path d="M169.2,507 L171.4,507 L171.4,576.3 L170.3,577.9 L169.2,576.3 Z" fill="#0a0a7a"/><path d="M169.4,507V576.3M171.2,507V576.3" stroke="#05053a" stroke-width="0.45" fill="none"/><ellipse cx="170.3" cy="567.1" rx="1.9" ry="0.75" fill="#05053a"/><ellipse cx="170.3" cy="575.1" rx="1.9" ry="0.75" fill="#05053a"/>
</g>
<rect x="116.6" y="508" width="107.3" height="140.8" fill="none" stroke="#6b6b50" stroke-opacity="0.55" stroke-width="0.7"/>
<clipPath id="c14"><rect x="231.5" y="508" width="107.3" height="140.8"/></clipPath>
<g clip-path="url(#c14)">
<rect x="231.5" y="508" width="107.3" height="140.8" fill="#004ed6"/>
<path d="M279,508C278.4,509.6 277.4,514.6 275.2,517.5C273,520.4 270.1,522.8 265.6,525.2C261.1,527.6 253.9,530.5 248.2,532C242.5,533.5 234.3,533.6 231.5,533.9L227.5,533.9L227.5,504L279,504Z" fill="#0000d6"/>
<path d="M231.5,561.8C234.3,561.6 242.2,561.3 248.2,560.8C254.2,560.3 262.5,559 267.5,558.9C272.5,558.8 275.1,558.8 278,560C280.9,561.2 282.7,567 284.8,566C286.9,565 287.7,558 290.6,554.1C293.5,550.2 297.9,546.1 302.1,542.6C306.3,539.1 311.4,535.8 315.6,532.9C319.8,530 323.3,527.3 327.2,525.2C331.1,523.1 336.9,521.2 338.8,520.4L342.8,520.4L342.8,652.8L227.5,652.8L227.5,561.8Z" fill="#009bd6"/>
<path d="M231.5,580.1C234.3,579.9 241.2,579.6 248.2,579.1C255.2,578.6 267.2,576.7 273.3,577.2C279.4,577.7 281.3,582.3 284.8,582C288.3,581.7 290.9,578 294.4,575.3C297.9,572.6 301.5,568.9 306,565.7C310.5,562.5 315.9,558.7 321.4,556C326.9,553.3 335.9,550.4 338.8,549.3L342.8,549.3L342.8,652.8L227.5,652.8L227.5,580.1Z" fill="#00d6c3"/>
<path d="M231.5,594.6C233.8,594.5 240.4,594.2 245.4,593.8C250.4,593.4 256.2,592.8 261.7,592.2C267.1,591.7 272.7,591.3 278.1,590.5C283.6,589.7 288.9,588.8 294.4,587.3C299.8,585.8 305.4,583.3 310.8,581.5C316.2,579.7 322.4,578.2 327.1,576.6C331.8,575 336.9,572.8 338.8,572L342.8,572L342.8,652.8L227.5,652.8L227.5,594.6Z" fill="#00d675"/>
<path d="M231.5,609.3C233.8,609 240.4,608.2 245.4,607.7C250.4,607.2 256.2,606.9 261.7,606.1C267.1,605.3 272.7,604.2 278.1,602.8C283.6,601.4 288.9,599.8 294.4,597.9C299.8,596 305.4,593.3 310.8,591.4C316.2,589.5 322.4,587.6 327.1,586.4C331.8,585.2 336.9,584.4 338.8,584L342.8,584L342.8,652.8L227.5,652.8L227.5,609.3Z" fill="#00d627"/>
<path d="M231.5,624C233.8,623.5 240.4,621.8 245.4,620.8C250.4,619.8 256.2,619.2 261.7,618.3C267.1,617.3 272.7,616.5 278.1,615.1C283.6,613.8 288.9,612.1 294.4,610.2C299.8,608.3 305.4,605.7 310.8,603.6C316.2,601.5 322.4,599.3 327.1,597.9C331.8,596.5 336.9,595.8 338.8,595.4L342.8,595.4L342.8,652.8L227.5,652.8L227.5,624Z" fill="#27d600"/>
<path d="M231.5,633.9C233.8,633.4 240.4,631.6 245.4,630.6C250.4,629.6 256.2,629.1 261.7,628.1C267.1,627.1 272.7,626.2 278.1,624.9C283.6,623.5 288.9,621.8 294.4,620C299.8,618.2 305.4,616.2 310.8,614.2C316.2,612.2 322.4,609.2 327.1,607.7C331.8,606.2 336.9,605.6 338.8,605.2L342.8,605.2L342.8,652.8L227.5,652.8L227.5,633.9Z" fill="#75d600"/>
<path d="M231.5,643.7C233.8,643.2 240.4,641.4 245.4,640.4C250.4,639.4 256.2,639 261.7,638C267.1,637 272.7,636.1 278.1,634.7C283.6,633.3 288.9,631.6 294.4,629.8C299.8,628 305.4,625.8 310.8,624C316.2,622.2 322.4,620.2 327.1,619.1C331.8,618 336.9,617.8 338.8,617.5L342.8,617.5L342.8,652.8L227.5,652.8L227.5,643.7Z" fill="#c3d600"/>
<path d="M253.5,648.8C256.2,648.5 263.1,648 269.9,646.9C276.7,645.8 287.6,643.6 294.4,642C301.2,640.4 305.4,638.9 310.8,637.1C316.2,635.3 322.4,632.6 327.1,631.4C331.8,630.2 336.9,630.1 338.8,629.8L342.8,629.8L342.8,652.8L253.5,652.8Z" fill="#d69b00"/>
<path d="M302.6,648.8C305.3,648.2 314.3,646.4 318.9,645.3C323.5,644.2 327.1,642.8 330.4,642C333.7,641.2 337.4,640.7 338.8,640.4L342.8,640.4L342.8,652.8L302.6,652.8Z" fill="#d64e00"/>
<path d="M333.6,648.8C334,648.4 335.1,647.1 336,646.5C336.9,645.9 338.3,645.5 338.8,645.3L342.8,645.3L342.8,652.8L333.6,652.8Z" fill="#d60000"/>
<ellipse cx="284.4" cy="571" rx="4.3" ry="10.2" fill="#004ed6"/>
<path d="M283.9,507 L286.1,507 L286.1,578.8 L285,580.4 L283.9,578.8 Z" fill="#0a1080"/><path d="M284.1,507V578.8M285.9,507V578.8" stroke="#05053a" stroke-width="0.45" fill="none"/><ellipse cx="285" cy="569.6" rx="1.9" ry="0.75" fill="#05053a"/><ellipse cx="285" cy="577.6" rx="1.9" ry="0.75" fill="#05053a"/>
</g>
<rect x="231.5" y="508" width="107.3" height="140.8" fill="none" stroke="#6b6b50" stroke-opacity="0.55" stroke-width="0.7"/>
<clipPath id="c15"><rect x="346" y="507.7" width="106.8" height="141.1"/></clipPath>
<g clip-path="url(#c15)">
<rect x="346" y="507.7" width="106.8" height="141.1" fill="#009bd6"/>
<path d="M419,507.7C418.3,509.4 416.7,514.5 414.9,518.1C413.1,521.7 410.8,526 408.4,529.5C405.9,533 402.9,536.7 400.2,539.3C397.5,541.9 396.1,543.5 392,545C387.9,546.5 381.1,548.3 375.7,548.3C370.2,548.3 363.7,546.8 359.3,545C354.9,543.2 351.7,539.5 349.5,537.7C347.3,535.9 346.6,535 346,534.4L342,534.4L342,503.7L419,503.7Z" fill="#004ed6"/>
<path d="M346,571.4C348.7,571.6 356.3,572.4 362.2,572.4C368.1,572.4 376.5,571.5 381.5,571.4C386.5,571.3 390,570.8 392.3,571.6C394.6,572.4 394.2,574.6 395.3,576.1C396.4,577.6 397.6,580.1 398.6,580.7C399.6,581.3 400.4,581 401.2,579.6C402,578.2 402.8,574.4 403.7,572.1C404.6,569.9 405.3,568.1 406.4,566.1C407.5,564.1 409.1,561.9 410.4,560C411.7,558.1 412.8,557 414.4,554.7C416,552.4 416.8,550 420,546.4C423.2,542.8 429.3,536.8 433.5,532.9C437.7,529 441.8,525.7 445,523.3C448.2,520.9 451.5,519.3 452.8,518.5L456.8,518.5L456.8,652.8L342,652.8L342,571.4Z" fill="#00d6c3"/>
<path d="M346,590.7C348.7,590.5 356.3,590.2 362.2,589.7C368.1,589.2 375.1,588.8 381.5,587.8C387.9,586.8 394.3,587.4 400.7,584C407.1,580.6 414.2,572.6 420,567.6C425.8,562.6 429.9,557.8 435.4,554.1C440.9,550.4 449.9,546.9 452.8,545.5L456.8,545.5L456.8,652.8L342,652.8L342,590.7Z" fill="#00d675"/>
<path d="M346,605.1C348.7,605 354.7,605 362.2,604.2C369.7,603.4 381.5,603.2 391.1,600.3C400.7,597.4 412,591.6 420,586.8C428,582 433.7,574.9 439.2,571.4C444.7,567.9 450.5,566.7 452.8,565.7L456.8,565.7L456.8,652.8L342,652.8L342,605.1Z" fill="#00d627"/>
<path d="M346,615.7C348.7,615.5 354.7,615.5 362.2,614.7C369.7,613.9 381.5,613.6 391.1,610.9C400.7,608.2 409.7,603.4 420,598.4C430.3,593.4 447.3,584 452.8,581.1L456.8,581.1L456.8,652.8L342,652.8L342,615.7Z" fill="#27d600"/>
<path d="M346,626.3C348.7,626 354.7,625.2 362.2,624.4C369.7,623.6 381.5,623.8 391.1,621.5C400.7,619.2 409.7,615.4 420,610.9C430.3,606.4 447.3,597.2 452.8,594.5L456.8,594.5L456.8,652.8L342,652.8L342,626.3Z" fill="#75d600"/>
<path d="M346,636.9C348.7,636.2 354.7,634 362.2,633C369.7,632 381.5,633 391.1,631.1C400.7,629.2 409.7,625.4 420,621.5C430.3,617.6 447.3,610.2 452.8,608L456.8,608L456.8,652.8L342,652.8L342,636.9Z" fill="#c3d600"/>
<path d="M346,646.5C348.7,645.5 354.7,641.8 362.2,640.7C369.7,639.6 381.5,641.4 391.1,639.8C400.7,638.2 409.7,634.5 420,631.1C430.3,627.7 447.3,621.4 452.8,619.5L456.8,619.5L456.8,652.8L342,652.8L342,646.5Z" fill="#d69b00"/>
<path d="M410.4,648.8C413.6,647.8 422.5,645.2 429.6,642.6C436.7,640 448.9,634.6 452.8,633L456.8,633L456.8,652.8L410.4,652.8Z" fill="#d64e00"/>
<path d="M445,648.8C445.8,648.5 448.7,647.5 450,647C451.3,646.5 452.3,645.8 452.8,645.5L456.8,645.5L456.8,652.8L445,652.8Z" fill="#d60000"/>
<path d="M399.3,564.2C400.5,564.2 402.8,566.2 402.8,567.4C402.8,568.6 400.5,571.2 399.3,571.2C398.1,571.2 395.8,568.6 395.8,567.4C395.8,566.2 398.1,564.2 399.3,564.2Z" fill="#004ed6"/>
<path d="M398.3,506.7 L400.4,506.7 L400.4,579 L399.4,580.6 L398.3,579 Z" fill="#1a40b0"/><path d="M398.5,506.7V579M400.2,506.7V579" stroke="#0c1e60" stroke-width="0.45" fill="none"/><ellipse cx="399.4" cy="569.8" rx="1.9" ry="0.75" fill="#0c1e60"/><ellipse cx="399.4" cy="577.8" rx="1.9" ry="0.75" fill="#0c1e60"/>
</g>
<rect x="346" y="507.7" width="106.8" height="141.1" fill="none" stroke="#6b6b50" stroke-opacity="0.55" stroke-width="0.7"/>
<clipPath id="c16"><rect x="460.1" y="507.8" width="107.7" height="141"/></clipPath>
<g clip-path="url(#c16)">
<rect x="460.1" y="507.8" width="107.7" height="141" fill="#00d6c3"/>
<path d="M471.5,507.8C471.3,510.7 470.5,519.1 470.5,525.2C470.5,531.3 470.1,539 471.5,544.5C472.9,550 475.7,554.8 479.2,558C482.7,561.2 488.4,562.1 492.6,563.7C496.8,565.3 501.6,565.7 504.2,567.6C506.8,569.5 506.4,573 508,575.3C509.6,577.5 512,581.8 513.8,581.1C515.6,580.5 517.5,575.2 518.6,571.4C519.7,567.5 519.7,562.5 520.5,558C521.3,553.5 521.6,549 523.4,544.5C525.2,540 528.5,535.5 531.1,531C533.7,526.5 536.9,521.4 538.8,517.5C540.7,513.6 542.1,509.4 542.7,507.8L542.7,503.8L471.5,503.8Z" fill="#009bd6"/>
<path d="M460.1,568.7C462.5,569.8 469.3,573.2 474.4,575.3C479.5,577.4 485.2,579.9 490.7,581.5C496.1,583.1 502.4,584.5 507.1,584.8C511.8,585.1 515.9,584.6 519,583.4C522.1,582.2 524,579.7 525.7,577.4C527.4,575.1 527.6,571.8 529,569.4C530.4,567 532.2,565 534,563C535.8,561 537.5,560.4 539.8,557.3C542.1,554.2 545.2,548.6 547.9,544.2C550.6,539.9 553.4,535 556.1,531.2C558.8,527.4 562.3,523.6 564.3,521.3C566.2,519 567.2,518 567.8,517.3L571.8,517.3L571.8,652.8L456.1,652.8L456.1,568.7Z" fill="#00d675"/>
<path d="M460.1,589.7C462.5,590.2 469.3,591.9 474.4,593C479.5,594.1 485.2,595.6 490.7,596.3C496.1,597 501.7,597.2 507.1,597.1C512.6,597 518.5,596.6 523.4,595.4C528.3,594.2 532.4,591.8 536.5,589.7C540.6,587.6 544.6,585.6 547.9,583C551.2,580.4 553.4,578.5 556.1,574C558.8,569.5 562.3,560.2 564.3,556C566.2,551.8 567.2,550.2 567.8,549L571.8,549L571.8,652.8L456.1,652.8L456.1,589.7Z" fill="#00d627"/>
<path d="M460.1,604.4C462.5,604.5 469.3,604.8 474.4,605.2C479.5,605.6 485.2,606.5 490.7,606.9C496.1,607.3 501.7,607.8 507.1,607.7C512.6,607.6 518,607.2 523.4,606.1C528.8,605 535.2,603.1 539.8,601.2C544.4,599.3 547.9,596.7 551.2,594.6C554.5,592.5 556.6,591 559.4,588.9C562.2,586.8 566.4,583.1 567.8,582L571.8,582L571.8,652.8L456.1,652.8L456.1,604.4Z" fill="#27d600"/>
<path d="M460.1,617.5C462.5,617.4 469.3,616.8 474.4,616.7C479.5,616.6 485.2,616.6 490.7,616.7C496.1,616.8 501.7,617.5 507.1,617.5C512.6,617.5 518,617.5 523.4,616.7C528.8,615.9 534.3,614.7 539.8,612.6C545.2,610.5 551.4,606.7 556.1,604.4C560.8,602.1 565.8,599.9 567.8,599L571.8,599L571.8,652.8L456.1,652.8L456.1,617.5Z" fill="#75d600"/>
<path d="M460.1,625.7C462.5,625.4 469.3,624.1 474.4,624C479.5,623.9 485.2,624.6 490.7,624.9C496.1,625.2 501.7,625.7 507.1,625.7C512.6,625.7 518,625.5 523.4,624.9C528.8,624.3 534.3,623.8 539.8,622.4C545.2,621 551.4,618.2 556.1,616.7C560.8,615.2 565.8,614 567.8,613.4L571.8,613.4L571.8,652.8L456.1,652.8L456.1,625.7Z" fill="#c3d600"/>
<path d="M460.1,633C462.5,632.7 469.3,631.7 474.4,631.4C479.5,631.1 485.2,631.3 490.7,631.4C496.1,631.5 501.7,632.2 507.1,632.2C512.6,632.2 518,631.9 523.4,631.4C528.8,630.9 534.3,630 539.8,629C545.2,628 551.4,626.5 556.1,625.7C560.8,624.9 565.8,624.3 567.8,624L571.8,624L571.8,652.8L456.1,652.8L456.1,633Z" fill="#d69b00"/>
<path d="M460.1,640.4C462.5,640 469.3,638.5 474.4,638C479.5,637.5 485.2,637 490.7,637.1C496.1,637.2 501.7,638.6 507.1,638.8C512.6,638.9 518,638.5 523.4,638C528.8,637.5 534.3,636.5 539.8,635.5C545.2,634.5 551.4,633 556.1,632.2C560.8,631.4 565.8,630.9 567.8,630.6L571.8,630.6L571.8,652.8L456.1,652.8L456.1,640.4Z" fill="#d64e00"/>
<path d="M463,648.8C464.9,648.3 469.8,646.4 474.4,646.1C479,645.8 485.2,646.6 490.7,646.9C496.1,647.2 501.7,647.8 507.1,647.8C512.6,647.8 518,647.6 523.4,646.9C528.8,646.2 534.3,644.7 539.8,643.7C545.2,642.8 551.4,641.8 556.1,641.2C560.8,640.7 565.8,640.5 567.8,640.4L572,640.4L572,653L463,653Z" fill="#d60000"/>
<ellipse cx="513.4" cy="567.6" rx="3.4" ry="2.9" fill="#004ed6"/>
<path d="M512.9,506.8 L514.9,506.8 L514.9,579.5 L513.9,581.1 L512.9,579.5 Z" fill="#1838a8"/><path d="M513.1,506.8V579.5M514.7,506.8V579.5" stroke="#0c1e60" stroke-width="0.45" fill="none"/><ellipse cx="513.9" cy="570.3" rx="1.9" ry="0.75" fill="#0c1e60"/><ellipse cx="513.9" cy="578.3" rx="1.9" ry="0.75" fill="#0c1e60"/>
</g>
<rect x="460.1" y="507.8" width="107.7" height="141" fill="none" stroke="#6b6b50" stroke-opacity="0.55" stroke-width="0.7"/>
<clipPath id="c17"><rect x="575" y="508" width="107.1" height="140.8"/></clipPath>
<g clip-path="url(#c17)">
<rect x="575" y="508" width="107.1" height="140.8" fill="#00d627"/>
<path d="M590.3,508C589.7,509.9 588.1,515 586.5,519.5C584.9,524 582.2,529.1 580.7,534.9C579.2,540.7 578.1,547.7 577.8,554.1C577.5,560.5 578,568 578.8,573.4C579.6,578.8 580.4,583.4 582.6,586.8C584.8,590.2 587.4,592.1 592.2,593.6C597,595.1 606.5,595.4 611.5,595.5C616.5,595.6 618.9,595.1 622,594.5C625.1,593.9 627.3,592.3 630,591.6C632.7,590.9 635.5,591.2 638,590.1C640.5,589 643,586.9 645,585.1C647,583.3 648.1,581.6 650,579.1C651.9,576.6 654.1,573.3 656.1,570.1C658.1,566.9 660.1,563.5 662.1,560.1C664.1,556.8 665.9,553.4 668.1,550C670.3,546.6 672.8,543.2 675.1,540C677.4,536.8 680.9,532.5 682.1,531L686,531L686,504L590.3,504Z" fill="#00d675"/>
<path d="M605.7,508C605,510.2 603,516.3 601.6,521.3C600.2,526.2 598.3,532.2 597.5,537.7C596.7,543.2 596.2,549.1 596.7,554C597.2,558.9 598.8,563.6 600.8,567.1C602.8,570.6 606,573.1 609,575.3C612,577.5 615.8,579.1 618.8,580.2C621.8,581.3 625.1,581.6 627,581.8C628.9,581.9 628.8,581.7 630,581.1C631.2,580.5 632.7,579.6 634,578.1C635.3,576.6 636.8,574.6 638,572.1C639.2,569.6 639.8,566.6 641,563.1C642.2,559.6 643.5,555.4 645,551C646.5,546.6 648.5,541.3 650,537C651.5,532.7 652.8,528.5 654,525C655.2,521.5 656.2,518.8 657,516C657.8,513.2 658.5,509.3 658.8,508L658.8,504L605.7,504Z" fill="#00d6c3"/>
<path d="M575,602C577.4,602.4 584.3,603.6 589.4,604.4C594.5,605.2 600.3,606.5 605.7,606.9C611.1,607.3 616.5,607.3 622,606.9C627.5,606.5 634.2,605.6 638.4,604.5C642.6,603.4 644.7,601.7 647,600C649.3,598.3 649.8,596.4 652,594.1C654.2,591.8 657.6,588.9 660.1,586.1C662.6,583.3 664.6,580.3 667.1,577.1C669.6,573.9 672.6,569.8 675.1,567.1C677.6,564.4 680.9,562.1 682.1,561.1L686.1,561.1L686.1,652.8L571,652.8L571,602Z" fill="#27d600"/>
<path d="M575,615.1C577.4,615.4 584.3,616.3 589.4,616.7C594.5,617.1 600.3,617.5 605.7,617.5C611.1,617.5 616.5,617.2 622,616.7C627.5,616.2 632.9,615.4 638.4,614.2C643.9,613 650,611.4 654.8,609.3C659.6,607.2 664.1,603.7 667,601.5C669.9,599.3 670.3,598.1 672,596C673.7,593.9 675.4,591.4 677.1,589.1C678.8,586.8 681.3,583.3 682.1,582.1L686.1,582.1L686.1,652.8L571,652.8L571,615.1Z" fill="#75d600"/>
<path d="M575,624.9C577.4,625 584.3,625.6 589.4,625.7C594.5,625.8 600.3,625.8 605.7,625.7C611.1,625.6 616.5,625.3 622,624.9C627.5,624.5 632.9,624 638.4,623.2C643.9,622.4 649.3,622 654.8,620C660.2,618 666.5,613.7 671.1,611C675.7,608.3 680.3,604.8 682.1,603.6L686.1,603.6L686.1,652.8L571,652.8L571,624.9Z" fill="#c3d600"/>
<path d="M575,633.9C577.4,633.6 584.3,632.4 589.4,632.2C594.5,632.1 600.3,632.9 605.7,633C611.1,633.1 616.5,633.3 622,633C627.5,632.7 632.9,632.2 638.4,631.4C643.9,630.6 649.3,629.6 654.8,628.1C660.2,626.6 666.5,624.2 671.1,622.4C675.7,620.6 680.3,618.3 682.1,617.5L686.1,617.5L686.1,652.8L571,652.8L571,633.9Z" fill="#d69b00"/>
<path d="M575,639.6C576,639.3 578.8,638.4 581.2,638C583.6,637.6 585.3,637 589.4,637.1C593.5,637.2 600.3,638.5 605.7,638.8C611.1,639.1 616.5,639.1 622,638.8C627.5,638.5 632.9,637.8 638.4,637.1C643.9,636.4 649.3,635.7 654.8,634.7C660.2,633.8 666.5,632.1 671.1,631.4C675.7,630.7 680.3,630.7 682.1,630.6L686.1,630.6L686.1,652.8L571,652.8L571,639.6Z" fill="#d64e00"/>
<path d="M658,648.8C659.1,647.9 662.1,645 664.6,643.7C667.1,642.4 670.2,641.5 672.7,641.2C675.2,640.9 677.7,641.6 679.3,642C680.9,642.4 681.6,643.4 682.1,643.7L686.1,643.7L686.1,652.8L658,652.8Z" fill="#d60000"/>
<path d="M583,648.6C582.8,648 585.5,647 587,646.8C588.5,646.6 590.8,646.9 592,647.2C593.2,647.5 594.7,648.2 594,648.8C593.3,649.3 589.8,650.5 588,650.5C586.2,650.5 583.2,649.2 583,648.6Z" fill="#d60000"/>
<ellipse cx="628.2" cy="570.8" rx="5.3" ry="10.2" fill="#009bd6"/>
<ellipse cx="628.5" cy="572.5" rx="3" ry="6.5" fill="#004ed6"/>
<path d="M627.4,507 L629.4,507 L629.4,577.9 L628.4,579.5 L627.4,577.9 Z" fill="#1f4cbc"/><path d="M627.6,507V577.9M629.2,507V577.9" stroke="#0c2a80" stroke-width="0.45" fill="none"/><ellipse cx="628.4" cy="568.7" rx="1.9" ry="0.75" fill="#0c2a80"/><ellipse cx="628.4" cy="576.7" rx="1.9" ry="0.75" fill="#0c2a80"/>
</g>
<rect x="575" y="508" width="107.1" height="140.8" fill="none" stroke="#6b6b50" stroke-opacity="0.55" stroke-width="0.7"/>
<text class="s" x="45.2" y="161.6" font-size="9"><tspan font-style="italic">&#945;</tspan> = 0&#176;</text>
<rect x="23.00" y="174.1" width="6.10" height="6.4" fill="#FF0000"/>
<rect x="29.05" y="174.1" width="6.10" height="6.4" fill="#FF5D00"/>
<rect x="35.10" y="174.1" width="6.10" height="6.4" fill="#FFB900"/>
<rect x="41.15" y="174.1" width="6.10" height="6.4" fill="#E8FF00"/>
<rect x="47.20" y="174.1" width="6.10" height="6.4" fill="#8BFF00"/>
<rect x="53.25" y="174.1" width="6.10" height="6.4" fill="#2EFF00"/>
<rect x="59.30" y="174.1" width="6.10" height="6.4" fill="#00FF2E"/>
<rect x="65.35" y="174.1" width="6.10" height="6.4" fill="#00FF8B"/>
<rect x="71.40" y="174.1" width="6.10" height="6.4" fill="#00FFE8"/>
<rect x="77.45" y="174.1" width="6.10" height="6.4" fill="#00B9FF"/>
<rect x="83.50" y="174.1" width="6.10" height="6.4" fill="#005DFF"/>
<rect x="89.55" y="174.1" width="6.10" height="6.4" fill="#0000FF"/>
<text class="s" x="13.2" y="189.5" font-size="9">1.5 mm</text>
<text class="s" x="75.7" y="189.5" font-size="9">-7.3 mm</text>
<text class="s" x="156.3" y="161.6" font-size="9"><tspan font-style="italic">&#945;</tspan> = 15&#176;</text>
<rect x="137.90" y="174.1" width="6.10" height="6.4" fill="#FF0000"/>
<rect x="143.95" y="174.1" width="6.10" height="6.4" fill="#FF5D00"/>
<rect x="150.00" y="174.1" width="6.10" height="6.4" fill="#FFB900"/>
<rect x="156.05" y="174.1" width="6.10" height="6.4" fill="#E8FF00"/>
<rect x="162.10" y="174.1" width="6.10" height="6.4" fill="#8BFF00"/>
<rect x="168.15" y="174.1" width="6.10" height="6.4" fill="#2EFF00"/>
<rect x="174.20" y="174.1" width="6.10" height="6.4" fill="#00FF2E"/>
<rect x="180.25" y="174.1" width="6.10" height="6.4" fill="#00FF8B"/>
<rect x="186.30" y="174.1" width="6.10" height="6.4" fill="#00FFE8"/>
<rect x="192.35" y="174.1" width="6.10" height="6.4" fill="#00B9FF"/>
<rect x="198.40" y="174.1" width="6.10" height="6.4" fill="#005DFF"/>
<rect x="204.45" y="174.1" width="6.10" height="6.4" fill="#0000FF"/>
<text class="s" x="123.4" y="189.5" font-size="9">-23.5 mm</text>
<text class="s" x="188.9" y="189.5" font-size="9">-34.7 mm</text>
<text class="s" x="270.5" y="161.6" font-size="9"><tspan font-style="italic">&#945;</tspan> = 30&#176;</text>
<rect x="252.00" y="174.1" width="6.10" height="6.4" fill="#FF0000"/>
<rect x="258.05" y="174.1" width="6.10" height="6.4" fill="#FF5D00"/>
<rect x="264.10" y="174.1" width="6.10" height="6.4" fill="#FFB900"/>
<rect x="270.15" y="174.1" width="6.10" height="6.4" fill="#E8FF00"/>
<rect x="276.20" y="174.1" width="6.10" height="6.4" fill="#8BFF00"/>
<rect x="282.25" y="174.1" width="6.10" height="6.4" fill="#2EFF00"/>
<rect x="288.30" y="174.1" width="6.10" height="6.4" fill="#00FF2E"/>
<rect x="294.35" y="174.1" width="6.10" height="6.4" fill="#00FF8B"/>
<rect x="300.40" y="174.1" width="6.10" height="6.4" fill="#00FFE8"/>
<rect x="306.45" y="174.1" width="6.10" height="6.4" fill="#00B9FF"/>
<rect x="312.50" y="174.1" width="6.10" height="6.4" fill="#005DFF"/>
<rect x="318.55" y="174.1" width="6.10" height="6.4" fill="#0000FF"/>
<text class="s" x="238.6" y="189.5" font-size="9">-21 mm</text>
<text class="s" x="303.1" y="189.5" font-size="9">-32 mm</text>
<text class="s" x="384.3" y="161.6" font-size="9"><tspan font-style="italic">&#945;</tspan> = 45&#176;</text>
<rect x="366.90" y="174.1" width="6.10" height="6.4" fill="#FF0000"/>
<rect x="372.95" y="174.1" width="6.10" height="6.4" fill="#FF5D00"/>
<rect x="379.00" y="174.1" width="6.10" height="6.4" fill="#FFB900"/>
<rect x="385.05" y="174.1" width="6.10" height="6.4" fill="#E8FF00"/>
<rect x="391.10" y="174.1" width="6.10" height="6.4" fill="#8BFF00"/>
<rect x="397.15" y="174.1" width="6.10" height="6.4" fill="#2EFF00"/>
<rect x="403.20" y="174.1" width="6.10" height="6.4" fill="#00FF2E"/>
<rect x="409.25" y="174.1" width="6.10" height="6.4" fill="#00FF8B"/>
<rect x="415.30" y="174.1" width="6.10" height="6.4" fill="#00FFE8"/>
<rect x="421.35" y="174.1" width="6.10" height="6.4" fill="#00B9FF"/>
<rect x="427.40" y="174.1" width="6.10" height="6.4" fill="#005DFF"/>
<rect x="433.45" y="174.1" width="6.10" height="6.4" fill="#0000FF"/>
<text class="s" x="355.8" y="189.5" font-size="9">-17 mm</text>
<text class="s" x="420.6" y="189.5" font-size="9">-28 mm</text>
<text class="s" x="497.8" y="161.6" font-size="9"><tspan font-style="italic">&#945;</tspan> = 60&#176;</text>
<rect x="481.00" y="174.1" width="6.10" height="6.4" fill="#FF0000"/>
<rect x="487.05" y="174.1" width="6.10" height="6.4" fill="#FF5D00"/>
<rect x="493.10" y="174.1" width="6.10" height="6.4" fill="#FFB900"/>
<rect x="499.15" y="174.1" width="6.10" height="6.4" fill="#E8FF00"/>
<rect x="505.20" y="174.1" width="6.10" height="6.4" fill="#8BFF00"/>
<rect x="511.25" y="174.1" width="6.10" height="6.4" fill="#2EFF00"/>
<rect x="517.30" y="174.1" width="6.10" height="6.4" fill="#00FF2E"/>
<rect x="523.35" y="174.1" width="6.10" height="6.4" fill="#00FF8B"/>
<rect x="529.40" y="174.1" width="6.10" height="6.4" fill="#00FFE8"/>
<rect x="535.45" y="174.1" width="6.10" height="6.4" fill="#00B9FF"/>
<rect x="541.50" y="174.1" width="6.10" height="6.4" fill="#005DFF"/>
<rect x="547.55" y="174.1" width="6.10" height="6.4" fill="#0000FF"/>
<text class="s" x="469.3" y="189.5" font-size="9">-13 mm</text>
<text class="s" x="533.8" y="189.5" font-size="9">-23 mm</text>
<text class="s" x="611.8" y="161.6" font-size="9"><tspan font-style="italic">&#945;</tspan> = 75&#176;</text>
<rect x="595.00" y="174.1" width="6.10" height="6.4" fill="#FF0000"/>
<rect x="601.05" y="174.1" width="6.10" height="6.4" fill="#FF5D00"/>
<rect x="607.10" y="174.1" width="6.10" height="6.4" fill="#FFB900"/>
<rect x="613.15" y="174.1" width="6.10" height="6.4" fill="#E8FF00"/>
<rect x="619.20" y="174.1" width="6.10" height="6.4" fill="#8BFF00"/>
<rect x="625.25" y="174.1" width="6.10" height="6.4" fill="#2EFF00"/>
<rect x="631.30" y="174.1" width="6.10" height="6.4" fill="#00FF2E"/>
<rect x="637.35" y="174.1" width="6.10" height="6.4" fill="#00FF8B"/>
<rect x="643.40" y="174.1" width="6.10" height="6.4" fill="#00FFE8"/>
<rect x="649.45" y="174.1" width="6.10" height="6.4" fill="#00B9FF"/>
<rect x="655.50" y="174.1" width="6.10" height="6.4" fill="#005DFF"/>
<rect x="661.55" y="174.1" width="6.10" height="6.4" fill="#0000FF"/>
<text class="s" x="581.6" y="189.5" font-size="9">-8.6 mm</text>
<text class="s" x="644" y="189.5" font-size="9">-17.4 mm</text>
<text class="s" x="44.7" y="414.2" font-size="9"><tspan font-style="italic">&#945;</tspan> = 0&#176;</text>
<rect x="22.80" y="426.6" width="6.10" height="6.6" fill="#FF0000"/>
<rect x="28.85" y="426.6" width="6.10" height="6.6" fill="#FF5D00"/>
<rect x="34.90" y="426.6" width="6.10" height="6.6" fill="#FFB900"/>
<rect x="40.95" y="426.6" width="6.10" height="6.6" fill="#E8FF00"/>
<rect x="47.00" y="426.6" width="6.10" height="6.6" fill="#8BFF00"/>
<rect x="53.05" y="426.6" width="6.10" height="6.6" fill="#2EFF00"/>
<rect x="59.10" y="426.6" width="6.10" height="6.6" fill="#00FF2E"/>
<rect x="65.15" y="426.6" width="6.10" height="6.6" fill="#00FF8B"/>
<rect x="71.20" y="426.6" width="6.10" height="6.6" fill="#00FFE8"/>
<rect x="77.25" y="426.6" width="6.10" height="6.6" fill="#00B9FF"/>
<rect x="83.30" y="426.6" width="6.10" height="6.6" fill="#005DFF"/>
<rect x="89.35" y="426.6" width="6.10" height="6.6" fill="#0000FF"/>
<text class="s" x="15.8" y="442" font-size="9">3 mm</text>
<text class="s" x="78.9" y="442" font-size="9">-8 mm</text>
<text class="s" x="157.2" y="414.2" font-size="9"><tspan font-style="italic">&#945;</tspan> = 15&#176;</text>
<rect x="138.30" y="426.6" width="6.10" height="6.6" fill="#FF0000"/>
<rect x="144.35" y="426.6" width="6.10" height="6.6" fill="#FF5D00"/>
<rect x="150.40" y="426.6" width="6.10" height="6.6" fill="#FFB900"/>
<rect x="156.45" y="426.6" width="6.10" height="6.6" fill="#E8FF00"/>
<rect x="162.50" y="426.6" width="6.10" height="6.6" fill="#8BFF00"/>
<rect x="168.55" y="426.6" width="6.10" height="6.6" fill="#2EFF00"/>
<rect x="174.60" y="426.6" width="6.10" height="6.6" fill="#00FF2E"/>
<rect x="180.65" y="426.6" width="6.10" height="6.6" fill="#00FF8B"/>
<rect x="186.70" y="426.6" width="6.10" height="6.6" fill="#00FFE8"/>
<rect x="192.75" y="426.6" width="6.10" height="6.6" fill="#00B9FF"/>
<rect x="198.80" y="426.6" width="6.10" height="6.6" fill="#005DFF"/>
<rect x="204.85" y="426.6" width="6.10" height="6.6" fill="#0000FF"/>
<text class="s" x="127.6" y="442" font-size="9">-47 mm</text>
<text class="s" x="193.1" y="442" font-size="9">-62 mm</text>
<text class="s" x="271" y="414.2" font-size="9"><tspan font-style="italic">&#945;</tspan> = 30&#176;</text>
<rect x="252.90" y="426.6" width="6.10" height="6.6" fill="#FF0000"/>
<rect x="258.95" y="426.6" width="6.10" height="6.6" fill="#FF5D00"/>
<rect x="265.00" y="426.6" width="6.10" height="6.6" fill="#FFB900"/>
<rect x="271.05" y="426.6" width="6.10" height="6.6" fill="#E8FF00"/>
<rect x="277.10" y="426.6" width="6.10" height="6.6" fill="#8BFF00"/>
<rect x="283.15" y="426.6" width="6.10" height="6.6" fill="#2EFF00"/>
<rect x="289.20" y="426.6" width="6.10" height="6.6" fill="#00FF2E"/>
<rect x="295.25" y="426.6" width="6.10" height="6.6" fill="#00FF8B"/>
<rect x="301.30" y="426.6" width="6.10" height="6.6" fill="#00FFE8"/>
<rect x="307.35" y="426.6" width="6.10" height="6.6" fill="#00B9FF"/>
<rect x="313.40" y="426.6" width="6.10" height="6.6" fill="#005DFF"/>
<rect x="319.45" y="426.6" width="6.10" height="6.6" fill="#0000FF"/>
<text class="s" x="240.1" y="442" font-size="9">-41 mm</text>
<text class="s" x="304.9" y="442" font-size="9">-56 mm</text>
<text class="s" x="385.5" y="414.2" font-size="9"><tspan font-style="italic">&#945;</tspan> = 45&#176;</text>
<rect x="367.70" y="426.6" width="6.10" height="6.6" fill="#FF0000"/>
<rect x="373.75" y="426.6" width="6.10" height="6.6" fill="#FF5D00"/>
<rect x="379.80" y="426.6" width="6.10" height="6.6" fill="#FFB900"/>
<rect x="385.85" y="426.6" width="6.10" height="6.6" fill="#E8FF00"/>
<rect x="391.90" y="426.6" width="6.10" height="6.6" fill="#8BFF00"/>
<rect x="397.95" y="426.6" width="6.10" height="6.6" fill="#2EFF00"/>
<rect x="404.00" y="426.6" width="6.10" height="6.6" fill="#00FF2E"/>
<rect x="410.05" y="426.6" width="6.10" height="6.6" fill="#00FF8B"/>
<rect x="416.10" y="426.6" width="6.10" height="6.6" fill="#00FFE8"/>
<rect x="422.15" y="426.6" width="6.10" height="6.6" fill="#00B9FF"/>
<rect x="428.20" y="426.6" width="6.10" height="6.6" fill="#005DFF"/>
<rect x="434.25" y="426.6" width="6.10" height="6.6" fill="#0000FF"/>
<text class="s" x="357.6" y="442" font-size="9">-33 mm</text>
<text class="s" x="422.4" y="442" font-size="9">-48 mm</text>
<text class="s" x="500.3" y="414.2" font-size="9"><tspan font-style="italic">&#945;</tspan> = 60&#176;</text>
<rect x="483.20" y="426.6" width="6.10" height="6.6" fill="#FF0000"/>
<rect x="489.25" y="426.6" width="6.10" height="6.6" fill="#FF5D00"/>
<rect x="495.30" y="426.6" width="6.10" height="6.6" fill="#FFB900"/>
<rect x="501.35" y="426.6" width="6.10" height="6.6" fill="#E8FF00"/>
<rect x="507.40" y="426.6" width="6.10" height="6.6" fill="#8BFF00"/>
<rect x="513.45" y="426.6" width="6.10" height="6.6" fill="#2EFF00"/>
<rect x="519.50" y="426.6" width="6.10" height="6.6" fill="#00FF2E"/>
<rect x="525.55" y="426.6" width="6.10" height="6.6" fill="#00FF8B"/>
<rect x="531.60" y="426.6" width="6.10" height="6.6" fill="#00FFE8"/>
<rect x="537.65" y="426.6" width="6.10" height="6.6" fill="#00B9FF"/>
<rect x="543.70" y="426.6" width="6.10" height="6.6" fill="#005DFF"/>
<rect x="549.75" y="426.6" width="6.10" height="6.6" fill="#0000FF"/>
<text class="s" x="471.1" y="442" font-size="9">-25 mm</text>
<text class="s" x="536.3" y="442" font-size="9">-39 mm</text>
<text class="s" x="614.5" y="414.2" font-size="9"><tspan font-style="italic">&#945;</tspan> = 75&#176;</text>
<rect x="597.70" y="426.6" width="6.10" height="6.6" fill="#FF0000"/>
<rect x="603.75" y="426.6" width="6.10" height="6.6" fill="#FF5D00"/>
<rect x="609.80" y="426.6" width="6.10" height="6.6" fill="#FFB900"/>
<rect x="615.85" y="426.6" width="6.10" height="6.6" fill="#E8FF00"/>
<rect x="621.90" y="426.6" width="6.10" height="6.6" fill="#8BFF00"/>
<rect x="627.95" y="426.6" width="6.10" height="6.6" fill="#2EFF00"/>
<rect x="634.00" y="426.6" width="6.10" height="6.6" fill="#00FF2E"/>
<rect x="640.05" y="426.6" width="6.10" height="6.6" fill="#00FF8B"/>
<rect x="646.10" y="426.6" width="6.10" height="6.6" fill="#00FFE8"/>
<rect x="652.15" y="426.6" width="6.10" height="6.6" fill="#00B9FF"/>
<rect x="658.20" y="426.6" width="6.10" height="6.6" fill="#005DFF"/>
<rect x="664.25" y="426.6" width="6.10" height="6.6" fill="#0000FF"/>
<text class="s" x="586" y="442" font-size="9">-17 mm</text>
<text class="s" x="650.8" y="442" font-size="9">-28 mm</text>
<text class="s" x="44.7" y="667" font-size="9"><tspan font-style="italic">&#945;</tspan> = 0&#176;</text>
<rect x="22.20" y="680.1" width="6.10" height="6.4" fill="#FF0000"/>
<rect x="28.25" y="680.1" width="6.10" height="6.4" fill="#FF5D00"/>
<rect x="34.30" y="680.1" width="6.10" height="6.4" fill="#FFB900"/>
<rect x="40.35" y="680.1" width="6.10" height="6.4" fill="#E8FF00"/>
<rect x="46.40" y="680.1" width="6.10" height="6.4" fill="#8BFF00"/>
<rect x="52.45" y="680.1" width="6.10" height="6.4" fill="#2EFF00"/>
<rect x="58.50" y="680.1" width="6.10" height="6.4" fill="#00FF2E"/>
<rect x="64.55" y="680.1" width="6.10" height="6.4" fill="#00FF8B"/>
<rect x="70.60" y="680.1" width="6.10" height="6.4" fill="#00FFE8"/>
<rect x="76.65" y="680.1" width="6.10" height="6.4" fill="#00B9FF"/>
<rect x="82.70" y="680.1" width="6.10" height="6.4" fill="#005DFF"/>
<rect x="88.75" y="680.1" width="6.10" height="6.4" fill="#0000FF"/>
<text class="s" x="12.8" y="695.6" font-size="9">10 mm</text>
<text class="s" x="76.2" y="695.6" font-size="9">-12 mm</text>
<text class="s" x="156.8" y="667" font-size="9"><tspan font-style="italic">&#945;</tspan> = 15&#176;</text>
<rect x="137.70" y="680.1" width="6.10" height="6.4" fill="#FF0000"/>
<rect x="143.75" y="680.1" width="6.10" height="6.4" fill="#FF5D00"/>
<rect x="149.80" y="680.1" width="6.10" height="6.4" fill="#FFB900"/>
<rect x="155.85" y="680.1" width="6.10" height="6.4" fill="#E8FF00"/>
<rect x="161.90" y="680.1" width="6.10" height="6.4" fill="#8BFF00"/>
<rect x="167.95" y="680.1" width="6.10" height="6.4" fill="#2EFF00"/>
<rect x="174.00" y="680.1" width="6.10" height="6.4" fill="#00FF2E"/>
<rect x="180.05" y="680.1" width="6.10" height="6.4" fill="#00FF8B"/>
<rect x="186.10" y="680.1" width="6.10" height="6.4" fill="#00FFE8"/>
<rect x="192.15" y="680.1" width="6.10" height="6.4" fill="#00B9FF"/>
<rect x="198.20" y="680.1" width="6.10" height="6.4" fill="#005DFF"/>
<rect x="204.25" y="680.1" width="6.10" height="6.4" fill="#0000FF"/>
<text class="s" x="124.9" y="695.6" font-size="9">-136 mm</text>
<text class="s" x="189.7" y="695.6" font-size="9">-171 mm</text>
<text class="s" x="271" y="667" font-size="9"><tspan font-style="italic">&#945;</tspan> = 30&#176;</text>
<rect x="252.50" y="680.1" width="6.10" height="6.4" fill="#FF0000"/>
<rect x="258.55" y="680.1" width="6.10" height="6.4" fill="#FF5D00"/>
<rect x="264.60" y="680.1" width="6.10" height="6.4" fill="#FFB900"/>
<rect x="270.65" y="680.1" width="6.10" height="6.4" fill="#E8FF00"/>
<rect x="276.70" y="680.1" width="6.10" height="6.4" fill="#8BFF00"/>
<rect x="282.75" y="680.1" width="6.10" height="6.4" fill="#2EFF00"/>
<rect x="288.80" y="680.1" width="6.10" height="6.4" fill="#00FF2E"/>
<rect x="294.85" y="680.1" width="6.10" height="6.4" fill="#00FF8B"/>
<rect x="300.90" y="680.1" width="6.10" height="6.4" fill="#00FFE8"/>
<rect x="306.95" y="680.1" width="6.10" height="6.4" fill="#00B9FF"/>
<rect x="313.00" y="680.1" width="6.10" height="6.4" fill="#005DFF"/>
<rect x="319.05" y="680.1" width="6.10" height="6.4" fill="#0000FF"/>
<text class="s" x="236.8" y="695.6" font-size="9">-120 mm</text>
<text class="s" x="301.6" y="695.6" font-size="9">-154 mm</text>
<text class="s" x="385.5" y="667" font-size="9"><tspan font-style="italic">&#945;</tspan> = 45&#176;</text>
<rect x="367.70" y="680.1" width="6.10" height="6.4" fill="#FF0000"/>
<rect x="373.75" y="680.1" width="6.10" height="6.4" fill="#FF5D00"/>
<rect x="379.80" y="680.1" width="6.10" height="6.4" fill="#FFB900"/>
<rect x="385.85" y="680.1" width="6.10" height="6.4" fill="#E8FF00"/>
<rect x="391.90" y="680.1" width="6.10" height="6.4" fill="#8BFF00"/>
<rect x="397.95" y="680.1" width="6.10" height="6.4" fill="#2EFF00"/>
<rect x="404.00" y="680.1" width="6.10" height="6.4" fill="#00FF2E"/>
<rect x="410.05" y="680.1" width="6.10" height="6.4" fill="#00FF8B"/>
<rect x="416.10" y="680.1" width="6.10" height="6.4" fill="#00FFE8"/>
<rect x="422.15" y="680.1" width="6.10" height="6.4" fill="#00B9FF"/>
<rect x="428.20" y="680.1" width="6.10" height="6.4" fill="#005DFF"/>
<rect x="434.25" y="680.1" width="6.10" height="6.4" fill="#0000FF"/>
<text class="s" x="357" y="695.6" font-size="9">-98 mm</text>
<text class="s" x="419.8" y="695.6" font-size="9">-131 mm</text>
<text class="s" x="500.3" y="667" font-size="9"><tspan font-style="italic">&#945;</tspan> = 60&#176;</text>
<rect x="482.90" y="680.1" width="6.10" height="6.4" fill="#FF0000"/>
<rect x="488.95" y="680.1" width="6.10" height="6.4" fill="#FF5D00"/>
<rect x="495.00" y="680.1" width="6.10" height="6.4" fill="#FFB900"/>
<rect x="501.05" y="680.1" width="6.10" height="6.4" fill="#E8FF00"/>
<rect x="507.10" y="680.1" width="6.10" height="6.4" fill="#8BFF00"/>
<rect x="513.15" y="680.1" width="6.10" height="6.4" fill="#2EFF00"/>
<rect x="519.20" y="680.1" width="6.10" height="6.4" fill="#00FF2E"/>
<rect x="525.25" y="680.1" width="6.10" height="6.4" fill="#00FF8B"/>
<rect x="531.30" y="680.1" width="6.10" height="6.4" fill="#00FFE8"/>
<rect x="537.35" y="680.1" width="6.10" height="6.4" fill="#00B9FF"/>
<rect x="543.40" y="680.1" width="6.10" height="6.4" fill="#005DFF"/>
<rect x="549.45" y="680.1" width="6.10" height="6.4" fill="#0000FF"/>
<text class="s" x="470.8" y="695.6" font-size="9">-73 mm</text>
<text class="s" x="533.9" y="695.6" font-size="9">-107 mm</text>
<text class="s" x="614.5" y="667" font-size="9"><tspan font-style="italic">&#945;</tspan> = 75&#176;</text>
<rect x="597.70" y="680.1" width="6.10" height="6.4" fill="#FF0000"/>
<rect x="603.75" y="680.1" width="6.10" height="6.4" fill="#FF5D00"/>
<rect x="609.80" y="680.1" width="6.10" height="6.4" fill="#FFB900"/>
<rect x="615.85" y="680.1" width="6.10" height="6.4" fill="#E8FF00"/>
<rect x="621.90" y="680.1" width="6.10" height="6.4" fill="#8BFF00"/>
<rect x="627.95" y="680.1" width="6.10" height="6.4" fill="#2EFF00"/>
<rect x="634.00" y="680.1" width="6.10" height="6.4" fill="#00FF2E"/>
<rect x="640.05" y="680.1" width="6.10" height="6.4" fill="#00FF8B"/>
<rect x="646.10" y="680.1" width="6.10" height="6.4" fill="#00FFE8"/>
<rect x="652.15" y="680.1" width="6.10" height="6.4" fill="#00B9FF"/>
<rect x="658.20" y="680.1" width="6.10" height="6.4" fill="#005DFF"/>
<rect x="664.25" y="680.1" width="6.10" height="6.4" fill="#0000FF"/>
<text class="s" x="585.3" y="695.6" font-size="9">-47 mm</text>
<text class="s" x="650.8" y="695.6" font-size="9">-75 mm</text>
<text x="318.9" y="236.2" font-size="14">(a) 0.05 <tspan font-style="italic" dx="0.8">g</tspan></text>
<text x="321.8" y="488.5" font-size="14">(b) 0.1 <tspan font-style="italic" dx="0.8">g</tspan></text>
<text x="321.5" y="741.7" font-size="14">(c) 0.3 <tspan font-style="italic" dx="0.8">g</tspan></text>
</svg></body></html>
